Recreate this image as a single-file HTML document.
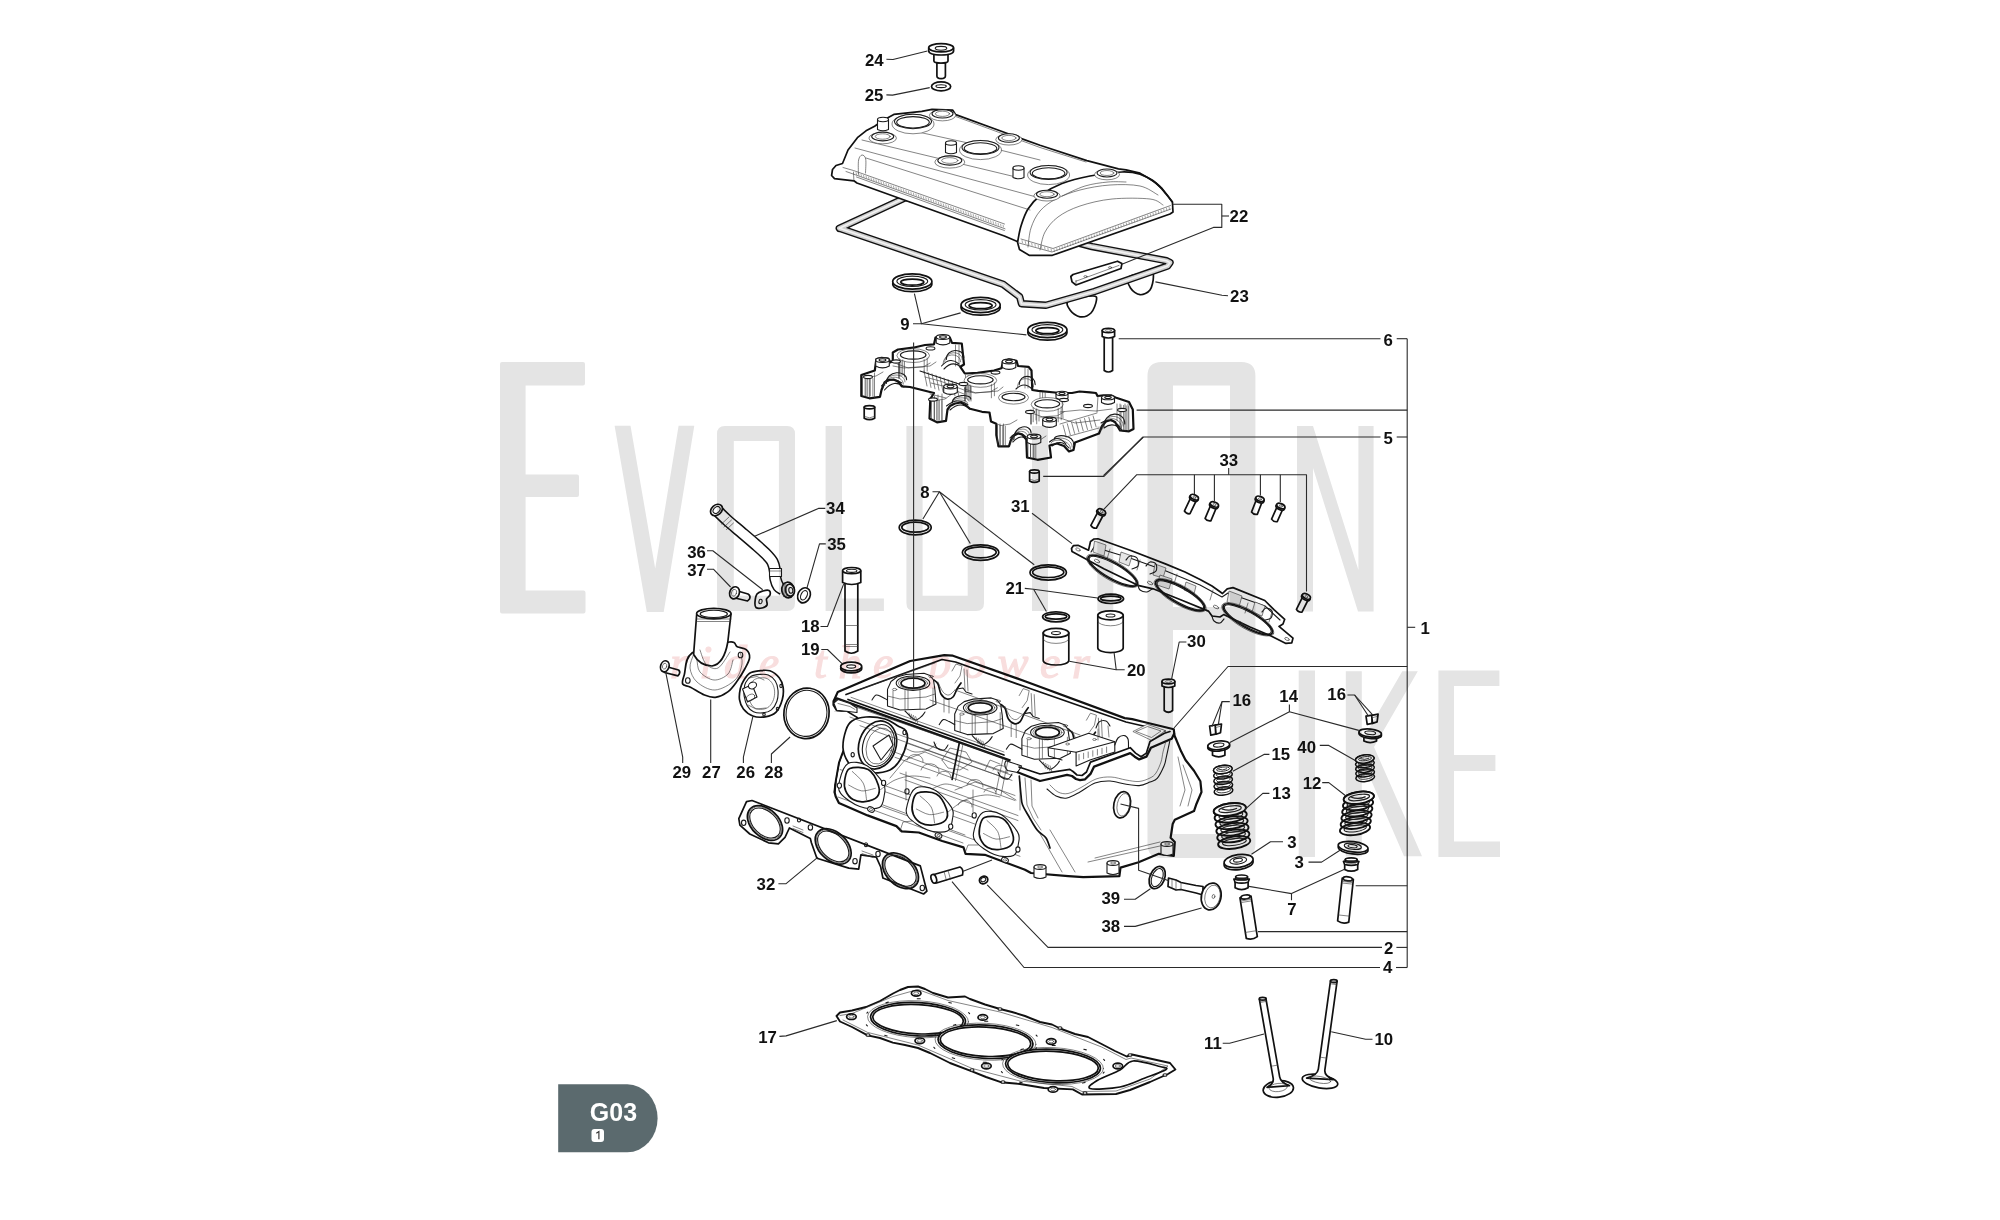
<!DOCTYPE html><html><head><meta charset="utf-8"><title>G03 Cylinder head</title><style>html,body{margin:0;padding:0;background:#fff;}body{width:2000px;height:1220px;overflow:hidden;}svg{display:block;}</style></head><body><svg width="2000" height="1220" viewBox="0 0 2000 1220"><style>.o{fill:#fff;stroke:#111;stroke-width:1.7;stroke-linejoin:round}.on{fill:none;stroke:#111;stroke-width:1.7;stroke-linejoin:round;stroke-linecap:round}.m{fill:none;stroke:#1a1a1a;stroke-width:1.1;stroke-linejoin:round;stroke-linecap:round}.mw{fill:#fff;stroke:#1a1a1a;stroke-width:1.1;stroke-linejoin:round}.t{fill:none;stroke:#333;stroke-width:0.6;stroke-linejoin:round;stroke-linecap:round}.tw{fill:#fff;stroke:#333;stroke-width:0.6;stroke-linejoin:round}.g{fill:#cfcfcf;stroke:none}</style><path class="o" d="M936.9,62.8V76Q936.9,78.6 941.1,78.6Q945.4,78.6 945.4,76V62.8Z"/><path class="o" d="M933.9,53V61Q933.9,63 941,63Q948,63 948,61V53Z"/><path class="o" d="M928.7,48V50.8Q928.7,55 941.1,55Q953.6,55 953.6,50.8V48Z"/><ellipse class="o" cx="941.1" cy="47.8" rx="12.4" ry="4.1"/><ellipse class="m" cx="941" cy="48.3" rx="5.8" ry="1.9"/><ellipse class="o" cx="941.1" cy="86.4" rx="9.6" ry="4.5"/><ellipse class="m" cx="941.1" cy="86.2" rx="5.2" ry="1.4"/><path class="o" d="M1068.8,300.5 C1064.97,302.83 1068.13,307.28 1070,310 C1071.87,312.72 1076.5,316.3 1080,316.8 C1083.5,317.3 1088.27,315.72 1091,313 C1093.73,310.28 1096.07,303.33 1096.4,300.5 C1096.73,297.67 1097.6,296 1093,296 C1088.4,296 1072.63,298.17 1068.8,300.5Z"/><path class="o" d="M1128.8,277 C1125.55,279.58 1128.63,285.05 1130.5,288 C1132.37,290.95 1136.75,294.37 1140,294.7 C1143.25,295.03 1147.77,292.95 1150,290 C1152.23,287.05 1153.4,279.92 1153.4,277 C1153.4,274.08 1154.1,272.5 1150,272.5 C1145.9,272.5 1132.05,274.42 1128.8,277Z"/><polygon points="839.3,228.3 906,197.5 1092,246.6 1166.5,260.7 1170,262.6 1167.5,266.1 1094.4,291.5 1046,305.3 1021.5,303.8 1019.7,296.8 1003,284.2 839.5,228.2" fill="none" stroke="#111" stroke-width="7.4" stroke-linejoin="round"/><polygon points="839.3,228.3 906,197.5 1092,246.6 1166.5,260.7 1170,262.6 1167.5,266.1 1094.4,291.5 1046,305.3 1021.5,303.8 1019.7,296.8 1003,284.2 839.5,228.2" fill="none" stroke="#cfcfcf" stroke-width="4.6" stroke-linejoin="round"/><polygon points="839.3,228.3 906,197.5 1092,246.6 1166.5,260.7 1170,262.6 1167.5,266.1 1094.4,291.5 1046,305.3 1021.5,303.8 1019.7,296.8 1003,284.2 839.5,228.2" fill="none" stroke="#f2f2f2" stroke-width="1.6" stroke-linejoin="round"/><polygon class="o" points="1070.8,276.5 1072,281.8 1076,285 1121,268.5 1121.9,263.6 1117.5,261.2 1073,274.5"/><line class="t" x1="1076" y1="281.2" x2="1119" y2="265.4"/><line class="t" x1="1076" y1="284.8" x2="1076" y2="280.5"/><ellipse class="t" cx="1085.5" cy="276.5" rx="1.6" ry="0.9"/><ellipse class="t" cx="1110" cy="267.5" rx="1.6" ry="0.9"/><path class="o" d="M831.6,175.5 L832.5,169.5 L836,165.5 L842.5,163.5 L848,150 L857.4,137.7 L866,130.8 L874.6,126.2 L880,122.5 L886,118.8 L893.8,114.4 L921.8,111.4 L932,109.4 L952.8,110.2 L955.7,114.6 L1000,130.8 L1020.7,138.4 L1040,145.3 L1086.9,160.6 L1118.4,168.9 L1126,169.8 L1140,173.2 L1152.8,180.5 L1162,188.5 L1167.2,195 L1172.4,202 L1173,212 L1170,214 L1052.4,255.3 L1029.5,255.4 L1019.5,249.5 L1017.3,241.5 L1004.4,236 L856.9,183 L853.9,180.8 L834.5,178.6Z"/><polyline class="t" points="843,167.5 853.5,170.5 1004.5,224"/><polyline class="t" points="846,171.5 856,175 1005,228.8"/><polyline class="t" points="856.5,177 1004.4,230.5"/><line class="t" x1="853.9" y1="180.8" x2="853.5" y2="172"/><path class="on" d="M1017.7,241.5 C1018.25,238.92 1019.28,231.42 1021,226 C1022.72,220.58 1024.67,214.17 1028,209 C1031.33,203.83 1035.33,199.25 1041,195 C1046.67,190.75 1053.83,186.67 1062,183.5 C1070.17,180.33 1080,177.92 1090,176 C1100,174.08 1113.67,172.28 1122,172 C1130.33,171.72 1134.33,172.47 1140,174.3 C1145.67,176.13 1151.67,179.72 1156,183 C1160.33,186.28 1163.27,190.83 1166,194 C1168.73,197.17 1171.33,200.67 1172.4,202"/><polyline class="t" points="1019,243 1052,252 1171,209"/><polyline class="t" points="1021,239 1053,248.5 1170.5,205.5"/><path class="t" d="M1028,247 C1028.5,243.83 1029,234 1031,228 C1033,222 1035.83,215.83 1040,211 C1044.17,206.17 1049.33,202.5 1056,199 C1062.67,195.5 1071,192.33 1080,190 C1089,187.67 1100,185.67 1110,185 C1120,184.33 1132,184.33 1140,186 C1148,187.67 1155,193.5 1158,195"/><path class="t" d="M1040,250 C1040.83,247 1042,237.5 1045,232 C1048,226.5 1052.17,221.33 1058,217 C1063.83,212.67 1071,209 1080,206 C1089,203 1100.33,200.17 1112,199 C1123.67,197.83 1141.5,198 1150,199 C1158.5,200 1160.83,204 1163,205"/><path class="t" d="M1062,196 C1065.83,194.33 1077.33,188.33 1085,186 C1092.67,183.67 1101.17,182.67 1108,182 C1114.83,181.33 1123,182 1126,182"/><line x1="856" y1="172.3" x2="856.6" y2="174.9" stroke="#555" stroke-width="0.5"/><line x1="858.49" y1="173.19" x2="859.09" y2="175.79" stroke="#555" stroke-width="0.5"/><line x1="860.98" y1="174.08" x2="861.58" y2="176.68" stroke="#555" stroke-width="0.5"/><line x1="863.47" y1="174.97" x2="864.07" y2="177.57" stroke="#555" stroke-width="0.5"/><line x1="865.97" y1="175.86" x2="866.57" y2="178.46" stroke="#555" stroke-width="0.5"/><line x1="868.46" y1="176.75" x2="869.06" y2="179.35" stroke="#555" stroke-width="0.5"/><line x1="870.95" y1="177.64" x2="871.55" y2="180.24" stroke="#555" stroke-width="0.5"/><line x1="873.44" y1="178.53" x2="874.04" y2="181.13" stroke="#555" stroke-width="0.5"/><line x1="875.93" y1="179.42" x2="876.53" y2="182.02" stroke="#555" stroke-width="0.5"/><line x1="878.42" y1="180.31" x2="879.02" y2="182.91" stroke="#555" stroke-width="0.5"/><line x1="880.92" y1="181.2" x2="881.52" y2="183.8" stroke="#555" stroke-width="0.5"/><line x1="883.41" y1="182.09" x2="884.01" y2="184.69" stroke="#555" stroke-width="0.5"/><line x1="885.9" y1="182.98" x2="886.5" y2="185.58" stroke="#555" stroke-width="0.5"/><line x1="888.39" y1="183.87" x2="888.99" y2="186.47" stroke="#555" stroke-width="0.5"/><line x1="890.88" y1="184.76" x2="891.48" y2="187.36" stroke="#555" stroke-width="0.5"/><line x1="893.37" y1="185.65" x2="893.97" y2="188.25" stroke="#555" stroke-width="0.5"/><line x1="895.86" y1="186.54" x2="896.46" y2="189.14" stroke="#555" stroke-width="0.5"/><line x1="898.36" y1="187.43" x2="898.96" y2="190.03" stroke="#555" stroke-width="0.5"/><line x1="900.85" y1="188.32" x2="901.45" y2="190.92" stroke="#555" stroke-width="0.5"/><line x1="903.34" y1="189.21" x2="903.94" y2="191.81" stroke="#555" stroke-width="0.5"/><line x1="905.83" y1="190.1" x2="906.43" y2="192.7" stroke="#555" stroke-width="0.5"/><line x1="908.32" y1="190.99" x2="908.92" y2="193.59" stroke="#555" stroke-width="0.5"/><line x1="910.81" y1="191.88" x2="911.41" y2="194.48" stroke="#555" stroke-width="0.5"/><line x1="913.31" y1="192.77" x2="913.91" y2="195.37" stroke="#555" stroke-width="0.5"/><line x1="915.8" y1="193.66" x2="916.4" y2="196.26" stroke="#555" stroke-width="0.5"/><line x1="918.29" y1="194.55" x2="918.89" y2="197.15" stroke="#555" stroke-width="0.5"/><line x1="920.78" y1="195.44" x2="921.38" y2="198.04" stroke="#555" stroke-width="0.5"/><line x1="923.27" y1="196.33" x2="923.87" y2="198.93" stroke="#555" stroke-width="0.5"/><line x1="925.76" y1="197.22" x2="926.36" y2="199.82" stroke="#555" stroke-width="0.5"/><line x1="928.25" y1="198.11" x2="928.85" y2="200.71" stroke="#555" stroke-width="0.5"/><line x1="930.75" y1="198.99" x2="931.35" y2="201.59" stroke="#555" stroke-width="0.5"/><line x1="933.24" y1="199.88" x2="933.84" y2="202.48" stroke="#555" stroke-width="0.5"/><line x1="935.73" y1="200.77" x2="936.33" y2="203.37" stroke="#555" stroke-width="0.5"/><line x1="938.22" y1="201.66" x2="938.82" y2="204.26" stroke="#555" stroke-width="0.5"/><line x1="940.71" y1="202.55" x2="941.31" y2="205.15" stroke="#555" stroke-width="0.5"/><line x1="943.2" y1="203.44" x2="943.8" y2="206.04" stroke="#555" stroke-width="0.5"/><line x1="945.69" y1="204.33" x2="946.29" y2="206.93" stroke="#555" stroke-width="0.5"/><line x1="948.19" y1="205.22" x2="948.79" y2="207.82" stroke="#555" stroke-width="0.5"/><line x1="950.68" y1="206.11" x2="951.28" y2="208.71" stroke="#555" stroke-width="0.5"/><line x1="953.17" y1="207" x2="953.77" y2="209.6" stroke="#555" stroke-width="0.5"/><line x1="955.66" y1="207.89" x2="956.26" y2="210.49" stroke="#555" stroke-width="0.5"/><line x1="958.15" y1="208.78" x2="958.75" y2="211.38" stroke="#555" stroke-width="0.5"/><line x1="960.64" y1="209.67" x2="961.24" y2="212.27" stroke="#555" stroke-width="0.5"/><line x1="963.14" y1="210.56" x2="963.74" y2="213.16" stroke="#555" stroke-width="0.5"/><line x1="965.63" y1="211.45" x2="966.23" y2="214.05" stroke="#555" stroke-width="0.5"/><line x1="968.12" y1="212.34" x2="968.72" y2="214.94" stroke="#555" stroke-width="0.5"/><line x1="970.61" y1="213.23" x2="971.21" y2="215.83" stroke="#555" stroke-width="0.5"/><line x1="973.1" y1="214.12" x2="973.7" y2="216.72" stroke="#555" stroke-width="0.5"/><line x1="975.59" y1="215.01" x2="976.19" y2="217.61" stroke="#555" stroke-width="0.5"/><line x1="978.08" y1="215.9" x2="978.68" y2="218.5" stroke="#555" stroke-width="0.5"/><line x1="980.58" y1="216.79" x2="981.18" y2="219.39" stroke="#555" stroke-width="0.5"/><line x1="983.07" y1="217.68" x2="983.67" y2="220.28" stroke="#555" stroke-width="0.5"/><line x1="985.56" y1="218.57" x2="986.16" y2="221.17" stroke="#555" stroke-width="0.5"/><line x1="988.05" y1="219.46" x2="988.65" y2="222.06" stroke="#555" stroke-width="0.5"/><line x1="990.54" y1="220.35" x2="991.14" y2="222.95" stroke="#555" stroke-width="0.5"/><line x1="993.03" y1="221.24" x2="993.63" y2="223.84" stroke="#555" stroke-width="0.5"/><line x1="995.53" y1="222.13" x2="996.13" y2="224.73" stroke="#555" stroke-width="0.5"/><line x1="998.02" y1="223.02" x2="998.62" y2="225.62" stroke="#555" stroke-width="0.5"/><line x1="1000.51" y1="223.91" x2="1001.11" y2="226.51" stroke="#555" stroke-width="0.5"/><line x1="1003" y1="224.8" x2="1003.6" y2="227.4" stroke="#555" stroke-width="0.5"/><line x1="1054" y1="249.2" x2="1054.5" y2="252" stroke="#555" stroke-width="0.5"/><line x1="1056.67" y1="248.21" x2="1057.17" y2="251.01" stroke="#555" stroke-width="0.5"/><line x1="1059.35" y1="247.22" x2="1059.85" y2="250.02" stroke="#555" stroke-width="0.5"/><line x1="1062.02" y1="246.23" x2="1062.52" y2="249.03" stroke="#555" stroke-width="0.5"/><line x1="1064.7" y1="245.25" x2="1065.2" y2="248.05" stroke="#555" stroke-width="0.5"/><line x1="1067.37" y1="244.26" x2="1067.87" y2="247.06" stroke="#555" stroke-width="0.5"/><line x1="1070.05" y1="243.27" x2="1070.55" y2="246.07" stroke="#555" stroke-width="0.5"/><line x1="1072.72" y1="242.28" x2="1073.22" y2="245.08" stroke="#555" stroke-width="0.5"/><line x1="1075.4" y1="241.29" x2="1075.9" y2="244.09" stroke="#555" stroke-width="0.5"/><line x1="1078.07" y1="240.3" x2="1078.57" y2="243.1" stroke="#555" stroke-width="0.5"/><line x1="1080.74" y1="239.32" x2="1081.24" y2="242.12" stroke="#555" stroke-width="0.5"/><line x1="1083.42" y1="238.33" x2="1083.92" y2="241.13" stroke="#555" stroke-width="0.5"/><line x1="1086.09" y1="237.34" x2="1086.59" y2="240.14" stroke="#555" stroke-width="0.5"/><line x1="1088.77" y1="236.35" x2="1089.27" y2="239.15" stroke="#555" stroke-width="0.5"/><line x1="1091.44" y1="235.36" x2="1091.94" y2="238.16" stroke="#555" stroke-width="0.5"/><line x1="1094.12" y1="234.37" x2="1094.62" y2="237.17" stroke="#555" stroke-width="0.5"/><line x1="1096.79" y1="233.39" x2="1097.29" y2="236.19" stroke="#555" stroke-width="0.5"/><line x1="1099.47" y1="232.4" x2="1099.97" y2="235.2" stroke="#555" stroke-width="0.5"/><line x1="1102.14" y1="231.41" x2="1102.64" y2="234.21" stroke="#555" stroke-width="0.5"/><line x1="1104.81" y1="230.42" x2="1105.31" y2="233.22" stroke="#555" stroke-width="0.5"/><line x1="1107.49" y1="229.43" x2="1107.99" y2="232.23" stroke="#555" stroke-width="0.5"/><line x1="1110.16" y1="228.44" x2="1110.66" y2="231.24" stroke="#555" stroke-width="0.5"/><line x1="1112.84" y1="227.46" x2="1113.34" y2="230.26" stroke="#555" stroke-width="0.5"/><line x1="1115.51" y1="226.47" x2="1116.01" y2="229.27" stroke="#555" stroke-width="0.5"/><line x1="1118.19" y1="225.48" x2="1118.69" y2="228.28" stroke="#555" stroke-width="0.5"/><line x1="1120.86" y1="224.49" x2="1121.36" y2="227.29" stroke="#555" stroke-width="0.5"/><line x1="1123.53" y1="223.5" x2="1124.03" y2="226.3" stroke="#555" stroke-width="0.5"/><line x1="1126.21" y1="222.51" x2="1126.71" y2="225.31" stroke="#555" stroke-width="0.5"/><line x1="1128.88" y1="221.53" x2="1129.38" y2="224.33" stroke="#555" stroke-width="0.5"/><line x1="1131.56" y1="220.54" x2="1132.06" y2="223.34" stroke="#555" stroke-width="0.5"/><line x1="1134.23" y1="219.55" x2="1134.73" y2="222.35" stroke="#555" stroke-width="0.5"/><line x1="1136.91" y1="218.56" x2="1137.41" y2="221.36" stroke="#555" stroke-width="0.5"/><line x1="1139.58" y1="217.57" x2="1140.08" y2="220.37" stroke="#555" stroke-width="0.5"/><line x1="1142.26" y1="216.58" x2="1142.76" y2="219.38" stroke="#555" stroke-width="0.5"/><line x1="1144.93" y1="215.6" x2="1145.43" y2="218.4" stroke="#555" stroke-width="0.5"/><line x1="1147.6" y1="214.61" x2="1148.1" y2="217.41" stroke="#555" stroke-width="0.5"/><line x1="1150.28" y1="213.62" x2="1150.78" y2="216.42" stroke="#555" stroke-width="0.5"/><line x1="1152.95" y1="212.63" x2="1153.45" y2="215.43" stroke="#555" stroke-width="0.5"/><line x1="1155.63" y1="211.64" x2="1156.13" y2="214.44" stroke="#555" stroke-width="0.5"/><line x1="1158.3" y1="210.65" x2="1158.8" y2="213.45" stroke="#555" stroke-width="0.5"/><line x1="1160.98" y1="209.67" x2="1161.48" y2="212.47" stroke="#555" stroke-width="0.5"/><line x1="1163.65" y1="208.68" x2="1164.15" y2="211.48" stroke="#555" stroke-width="0.5"/><line x1="1166.33" y1="207.69" x2="1166.83" y2="210.49" stroke="#555" stroke-width="0.5"/><line x1="1169" y1="206.7" x2="1169.5" y2="209.5" stroke="#555" stroke-width="0.5"/><line x1="1022" y1="240.2" x2="1022.5" y2="243" stroke="#555" stroke-width="0.5"/><line x1="1025.22" y1="241.13" x2="1025.72" y2="243.93" stroke="#555" stroke-width="0.5"/><line x1="1028.44" y1="242.07" x2="1028.94" y2="244.87" stroke="#555" stroke-width="0.5"/><line x1="1031.67" y1="243" x2="1032.17" y2="245.8" stroke="#555" stroke-width="0.5"/><line x1="1034.89" y1="243.93" x2="1035.39" y2="246.73" stroke="#555" stroke-width="0.5"/><line x1="1038.11" y1="244.87" x2="1038.61" y2="247.67" stroke="#555" stroke-width="0.5"/><line x1="1041.33" y1="245.8" x2="1041.83" y2="248.6" stroke="#555" stroke-width="0.5"/><line x1="1044.56" y1="246.73" x2="1045.06" y2="249.53" stroke="#555" stroke-width="0.5"/><line x1="1047.78" y1="247.67" x2="1048.28" y2="250.47" stroke="#555" stroke-width="0.5"/><line x1="1051" y1="248.6" x2="1051.5" y2="251.4" stroke="#555" stroke-width="0.5"/><polyline class="t" points="855,148 1040,198"/><polyline class="t" points="862,140 1020,178"/><polyline class="t" points="866,158 1030,210"/><polyline class="t" points="900,128 1000,150 1040,160"/><polyline class="t" points="955.7,116.5 1040,147.5 1086,162"/><path class="t" d="M858.4,174 C858.43,171.67 858,163.17 858.6,160 C859.2,156.83 860.82,155.17 862,155 C863.18,154.83 865.12,156 865.7,159 C866.28,162 865.53,170.67 865.5,173"/><ellipse class="tw" cx="913" cy="124" rx="21" ry="9.8"/><ellipse class="mw" cx="913" cy="121.5" rx="18.5" ry="7.2"/><ellipse class="m" cx="913" cy="122.3" rx="16.3" ry="5.7"/><ellipse class="tw" cx="980.5" cy="150" rx="21" ry="9.6"/><ellipse class="mw" cx="980.5" cy="147.5" rx="18.5" ry="7"/><ellipse class="m" cx="980.5" cy="148.3" rx="16.3" ry="5.5"/><ellipse class="tw" cx="1048.6" cy="175" rx="21" ry="9.6"/><ellipse class="mw" cx="1048.6" cy="172.5" rx="18.5" ry="7"/><ellipse class="m" cx="1048.6" cy="173.3" rx="16.3" ry="5.5"/><ellipse class="tw" cx="882.7" cy="138.1" rx="13.75" ry="5.72"/><ellipse class="mw" cx="882.7" cy="136.5" rx="11" ry="4.4"/><ellipse class="t" cx="882.7" cy="136.5" rx="7.48" ry="2.73"/><ellipse class="tw" cx="942.5" cy="115.4" rx="13.12" ry="5.46"/><ellipse class="mw" cx="942.5" cy="113.8" rx="10.5" ry="4.2"/><ellipse class="t" cx="942.5" cy="113.8" rx="7.14" ry="2.6"/><ellipse class="tw" cx="949.8" cy="162.1" rx="15" ry="5.98"/><ellipse class="mw" cx="949.8" cy="160.5" rx="12" ry="4.6"/><ellipse class="t" cx="949.8" cy="160.5" rx="8.16" ry="2.85"/><ellipse class="tw" cx="1008.9" cy="139.6" rx="13.12" ry="5.46"/><ellipse class="mw" cx="1008.9" cy="138" rx="10.5" ry="4.2"/><ellipse class="t" cx="1008.9" cy="138" rx="7.14" ry="2.6"/><ellipse class="tw" cx="1107" cy="174.6" rx="12.5" ry="5.2"/><ellipse class="mw" cx="1107" cy="173" rx="10" ry="4"/><ellipse class="t" cx="1107" cy="173" rx="6.8" ry="2.48"/><ellipse class="tw" cx="1047" cy="195.8" rx="13.12" ry="5.2"/><ellipse class="mw" cx="1047" cy="194.2" rx="10.5" ry="4"/><ellipse class="t" cx="1047" cy="194.2" rx="7.14" ry="2.48"/><path class="mw" d="M877.5,119.5V129.5Q883,132 888.5,129.5V119.5Z"/><ellipse class="mw" cx="883" cy="119.5" rx="5.5" ry="2.2"/><path class="mw" d="M945.5,143V152.5Q951,155 956.5,152.5V143Z"/><ellipse class="mw" cx="951" cy="143" rx="5.5" ry="2.2"/><path class="mw" d="M1013,168V177.5Q1018.5,180 1024,177.5V168Z"/><ellipse class="mw" cx="1018.5" cy="168" rx="5.5" ry="2.2"/><ellipse class="o" cx="912.3" cy="284.1" rx="19.6" ry="7.6"/><ellipse class="o" cx="912.3" cy="281.5" rx="19.6" ry="7.6"/><ellipse class="m" cx="912.3" cy="281.3" rx="15.4" ry="5.2"/><ellipse class="o" cx="912.3" cy="282.1" rx="11.6" ry="3"/><ellipse class="o" cx="980.6" cy="307.6" rx="19.6" ry="7.6"/><ellipse class="o" cx="980.6" cy="305" rx="19.6" ry="7.6"/><ellipse class="m" cx="980.6" cy="304.8" rx="15.4" ry="5.2"/><ellipse class="o" cx="980.6" cy="305.6" rx="11.6" ry="3"/><ellipse class="o" cx="1047.4" cy="332.6" rx="19.6" ry="7.6"/><ellipse class="o" cx="1047.4" cy="330" rx="19.6" ry="7.6"/><ellipse class="m" cx="1047.4" cy="329.8" rx="15.4" ry="5.2"/><ellipse class="o" cx="1047.4" cy="330.6" rx="11.6" ry="3"/><path class="o" d="M1104.2,336V370.5Q1108.4,373.5 1112.6,370.5V336Z"/><path class="o" d="M1102.2,330.5V336.5Q1108.4,339.5 1114.6,336.5V330.5Z"/><ellipse class="o" cx="1108.4" cy="330.5" rx="6.2" ry="2.2"/><ellipse class="t" cx="1108.4" cy="330.6" rx="3" ry="1"/><path class="o" d="M864.2,407.2V418.2Q869.45,421 874.7,418.2V407.2Z"/><ellipse class="o" cx="869.45" cy="407.2" rx="5.25" ry="1.6"/><polyline class="t" points="864.7,416.5 869.45,417.8 874.2,416.5"/><path class="o" d="M1029.6,471.5V481Q1034.4,483.8 1039.2,481V471.5Z"/><ellipse class="o" cx="1034.4" cy="471.5" rx="4.8" ry="1.6"/><polyline class="t" points="1030.1,479.3 1034.4,480.6 1038.7,479.3"/><polygon points="861.3,375 874.8,370.5 876.3,359.3 881.5,357.8 888.3,358.5 890.5,362.3 892.8,360.8 892.8,352.5 898,349.5 913,347.7 925,345 934,344.3 935.5,337.5 943,335.3 949.8,337.5 952,342.8 961.8,343.5 964,364.5 960.3,366.8 964.8,373.5 977.5,372.8 994,370.5 1001.5,368.3 1003,361.5 1009,359.3 1016.5,360.8 1018,366 1028.5,366.8 1031.5,370.5 1032.3,390 1038.3,390.8 1060,393 1072,393 1079.5,391.5 1090,392.3 1096,393 1097.5,396 1103.5,395.3 1111,395.3 1115.5,397.5 1129,402 1132.8,409.5 1133.5,429 1129,431.3 1120,430.5 1115,422 1111,420 1106,421.5 1102,426 1099,433.5 1075,442.5 1073.5,450 1069,451.5 1064,446 1057,443.5 1049.5,445.5 1051,457.5 1037.5,459.8 1027,457.5 1026.3,439.5 1022,434.5 1018,433.5 1013,436 1010.5,441 1009,446.3 998.5,446.3 996.3,435 996.3,423.8 991,421.5 989.5,412.5 982,411.8 970,408.8 966,405.5 961,402.5 955,403.5 950,406 947.5,409.5 946,420.8 937,422.3 929.5,418.5 930.3,399 934,393 919,389.3 910,387 901.8,386.3 898,381.5 893.5,379.5 888,380 884.5,382.5 881.5,390 880,396.8 869.5,398.3 861.3,396" fill="#fff" stroke="#111" stroke-width="2.2" stroke-linejoin="round"/><path class="m" d="M881.5,386Q891.65,375.5 901.8,383"/><path class="m" d="M884.5,390Q894.25,378.5 904,387"/><path class="m" d="M946.5,406Q957.25,396.5 968,405"/><path class="m" d="M950,410Q960,400.5 970,409"/><path class="m" d="M1010,438Q1018,428.5 1026,437"/><path class="m" d="M1013,442Q1021,432.5 1029,441"/><path class="m" d="M1049.5,442Q1057.75,434 1066,444"/><path class="m" d="M1052,446Q1060.5,438 1069,448"/><path class="m" d="M1101,423Q1110.5,416 1120,427"/><path class="m" d="M1104,428Q1113.5,420.5 1123,431"/><path class="m" d="M941.5,366Q950.25,356 959,364"/><path class="m" d="M944,369Q952.5,360 961,367"/><path class="m" d="M1016,389Q1024,381 1032,389"/><line class="t" x1="866" y1="378" x2="866" y2="396"/><line class="t" x1="869.5" y1="377" x2="869.5" y2="397.5"/><line class="t" x1="874.5" y1="373" x2="874.5" y2="398"/><line class="t" x1="934.5" y1="396" x2="934.5" y2="420"/><line class="t" x1="938" y1="395" x2="938" y2="421.5"/><line class="t" x1="942" y1="394" x2="942" y2="421.5"/><line class="t" x1="1000" y1="424" x2="1000" y2="446"/><line class="t" x1="1003.5" y1="424" x2="1003.5" y2="446"/><line class="t" x1="1030.5" y1="440" x2="1030.5" y2="457"/><line class="t" x1="1034" y1="440" x2="1034" y2="458"/><line class="t" x1="1120" y1="404" x2="1120" y2="430"/><line class="t" x1="1125" y1="404" x2="1125" y2="431"/><line class="t" x1="1128" y1="404" x2="1128" y2="431"/><line class="t" x1="959" y1="345" x2="959" y2="366"/><line class="t" x1="955.5" y1="345" x2="955.5" y2="366"/><line class="t" x1="1028" y1="369" x2="1028" y2="388"/><line class="t" x1="1025" y1="368" x2="1025" y2="388"/><line class="t" x1="901" y1="360" x2="901" y2="376"/><line class="t" x1="904.5" y1="360" x2="904.5" y2="377"/><line class="t" x1="968" y1="384" x2="968" y2="400"/><line class="t" x1="971" y1="384" x2="971" y2="401"/><line class="t" x1="1036" y1="405" x2="1036" y2="420"/><line class="t" x1="1039" y1="405" x2="1039" y2="421"/><polyline class="t" points="861.3,375 867,377.5 876,376 883,372"/><polyline class="t" points="930.3,399 936,400.5 945,399 952,394"/><polyline class="t" points="996.3,423.8 1001,425.5 1010,424 1017,420"/><polyline class="t" points="1026.3,439.5 1031,441 1040,440 1046,436"/><polyline class="t" points="893,366 904,368 930,366 936,362"/><polyline class="t" points="964.8,391 975,393 998,391 1003,387"/><polyline class="t" points="925,377 940,381 964,390"/><polyline class="t" points="931,383 945,386.5 964,394"/><polyline class="t" points="1060,412 1080,410 1096,411 1112,409"/><polyline class="t" points="1040,417 1060,418 1075,423 1100,420"/><path class="t" d="M883.1,387.8C883.1,374.3 903.4,374.3 903.4,384.1"/><path class="t" d="M884.7,385.6C884.7,372.1 905,372.1 905,381.9"/><path class="m" d="M886.3,383.4C886.3,369.9 906.6,369.9 906.6,379.7"/><path class="t" d="M949.1,407.3C949.1,398.3 967.6,398.3 967.6,403.3"/><path class="t" d="M950.7,405.1C950.7,396.1 969.2,396.1 969.2,401.1"/><path class="m" d="M952.3,402.9C952.3,393.9 970.8,393.9 970.8,398.9"/><path class="t" d="M1010.6,444.1C1010.6,428.3 1027.9,428.3 1027.9,437.3"/><path class="t" d="M1012.2,441.9C1012.2,426.1 1029.5,426.1 1029.5,435.1"/><path class="m" d="M1013.8,439.7C1013.8,423.9 1031.1,423.9 1031.1,432.9"/><path class="t" d="M1051.1,443.3C1051.1,438.3 1070.6,438.3 1070.6,449.3"/><path class="t" d="M1052.7,441.1C1052.7,436.1 1072.2,436.1 1072.2,447.1"/><path class="m" d="M1054.3,438.9C1054.3,433.9 1073.8,433.9 1073.8,444.9"/><path class="t" d="M1100.6,431.3C1100.6,414.8 1121.6,414.8 1121.6,428.3"/><path class="t" d="M1102.2,429.1C1102.2,412.6 1123.2,412.6 1123.2,426.1"/><path class="m" d="M1103.8,426.9C1103.8,410.4 1124.8,410.4 1124.8,423.9"/><path class="t" d="M943.1,363.8C943.1,352.2 960.6,352.2 960.6,361.8"/><path class="t" d="M944.7,361.6C944.7,350 962.2,350 962.2,359.6"/><path class="m" d="M946.3,359.4C946.3,347.8 963.8,347.8 963.8,357.4"/><path class="t" d="M1017.6,386.8C1017.6,375.8 1033.6,375.8 1033.6,386.8"/><path class="m" d="M1019.2,384.6C1019.2,373.6 1035.2,373.6 1035.2,384.6"/><line class="t" x1="862.5" y1="377" x2="862.5" y2="396"/><line class="t" x1="865.1" y1="377.4" x2="865.1" y2="396"/><line class="t" x1="867.7" y1="377.8" x2="867.7" y2="396"/><line class="t" x1="870.3" y1="378.2" x2="870.3" y2="396"/><line class="t" x1="872.9" y1="378.6" x2="872.9" y2="396"/><line class="t" x1="931.5" y1="399" x2="931.5" y2="420"/><line class="t" x1="934.1" y1="399.4" x2="934.1" y2="420"/><line class="t" x1="936.7" y1="399.8" x2="936.7" y2="420"/><line class="t" x1="939.3" y1="400.2" x2="939.3" y2="420"/><line class="t" x1="941.9" y1="400.6" x2="941.9" y2="420"/><line class="t" x1="997.5" y1="425" x2="997.5" y2="446"/><line class="t" x1="1000.1" y1="425.4" x2="1000.1" y2="446"/><line class="t" x1="1002.7" y1="425.8" x2="1002.7" y2="446"/><line class="t" x1="1005.3" y1="426.2" x2="1005.3" y2="446"/><line class="t" x1="1028" y1="441" x2="1028" y2="458"/><line class="t" x1="1030.6" y1="441.4" x2="1030.6" y2="458"/><line class="t" x1="1033.2" y1="441.8" x2="1033.2" y2="458"/><line class="t" x1="1035.8" y1="442.2" x2="1035.8" y2="458"/><line class="t" x1="1121" y1="405" x2="1121" y2="430"/><line class="t" x1="1123.6" y1="405.4" x2="1123.6" y2="430"/><line class="t" x1="1126.2" y1="405.8" x2="1126.2" y2="430"/><line class="t" x1="1128.8" y1="406.2" x2="1128.8" y2="430"/><line class="t" x1="1040" y1="392" x2="1040" y2="410"/><line class="t" x1="1042.6" y1="392.4" x2="1042.6" y2="410"/><line class="t" x1="1045.2" y1="392.8" x2="1045.2" y2="410"/><line class="t" x1="965.5" y1="375" x2="965.5" y2="392"/><line class="t" x1="968.1" y1="375.4" x2="968.1" y2="392"/><line class="t" x1="970.7" y1="375.8" x2="970.7" y2="392"/><line class="t" x1="924" y1="371" x2="927" y2="386"/><line class="t" x1="928" y1="372.4" x2="931" y2="387.4"/><line class="t" x1="932" y1="373.8" x2="935" y2="388.8"/><line class="t" x1="936" y1="375.2" x2="939" y2="390.2"/><line class="t" x1="940" y1="376.6" x2="943" y2="391.6"/><line class="t" x1="944" y1="378" x2="947" y2="393"/><line class="t" x1="948" y1="379.4" x2="951" y2="394.4"/><line class="t" x1="952" y1="380.8" x2="955" y2="395.8"/><line class="t" x1="956" y1="382.2" x2="959" y2="397.2"/><polyline class="m" points="920,371 962,385"/><polyline class="t" points="930,394 946,398"/><line class="t" x1="1063" y1="425" x2="1066" y2="436"/><line class="t" x1="1067.3" y1="423.7" x2="1070.3" y2="434.7"/><line class="t" x1="1071.6" y1="422.4" x2="1074.6" y2="433.4"/><line class="t" x1="1075.9" y1="421.1" x2="1078.9" y2="432.1"/><line class="t" x1="1080.2" y1="419.8" x2="1083.2" y2="430.8"/><line class="t" x1="1084.5" y1="418.5" x2="1087.5" y2="429.5"/><line class="t" x1="1088.8" y1="417.2" x2="1091.8" y2="428.2"/><line class="t" x1="1093.1" y1="415.9" x2="1096.1" y2="426.9"/><polyline class="t" points="1060,424 1097,413"/><polyline class="t" points="1066,437 1099,428"/><ellipse class="tw" cx="913.2" cy="355.6" rx="16.3" ry="6.9"/><ellipse class="mw" cx="913.2" cy="355" rx="12.8" ry="4.1"/><ellipse class="tw" cx="980.4" cy="380.4" rx="16.3" ry="6.9"/><ellipse class="mw" cx="980.4" cy="379.8" rx="12.8" ry="4.1"/><ellipse class="tw" cx="1013.5" cy="397.6" rx="15" ry="6.5"/><ellipse class="mw" cx="1013.5" cy="397" rx="11.5" ry="3.7"/><ellipse class="tw" cx="1047.2" cy="404.4" rx="16" ry="6.9"/><ellipse class="mw" cx="1047.2" cy="403.8" rx="12.5" ry="4.1"/><polyline class="t" points="899.2,359 899.2,373"/><polyline class="t" points="902.7,360 902.7,375"/><polyline class="t" points="927.2,358 927.2,371"/><polyline class="t" points="924.2,359.5 924.2,373"/><polyline class="t" points="897.2,364 908.2,368 923.2,367 930.2,363"/><polyline class="t" points="966.4,383.8 966.4,397.8"/><polyline class="t" points="969.9,384.8 969.9,399.8"/><polyline class="t" points="994.4,382.8 994.4,395.8"/><polyline class="t" points="991.4,384.3 991.4,397.8"/><polyline class="t" points="964.4,388.8 975.4,392.8 990.4,391.8 997.4,387.8"/><polyline class="t" points="1033.2,407.8 1033.2,421.8"/><polyline class="t" points="1036.7,408.8 1036.7,423.8"/><polyline class="t" points="1061.2,406.8 1061.2,419.8"/><polyline class="t" points="1058.2,408.3 1058.2,421.8"/><polyline class="t" points="1031.2,412.8 1042.2,416.8 1057.2,415.8 1064.2,411.8"/><polyline class="m" points="899,362 899,378"/><polyline class="m" points="965,387 965,401"/><polyline class="m" points="1031,410 1031,424"/><polyline class="t" points="1062,398 1063,418"/><polyline class="t" points="1117,404 1117,421"/><polyline class="t" points="1098,396 1097,412"/><path class="mw" d="M875.7,360V366Q882.5,369.84 889.3,366V360Z"/><ellipse class="mw" cx="882.5" cy="360" rx="6.8" ry="2.4"/><ellipse class="m" cx="882.5" cy="360" rx="3.4" ry="1.2"/><path class="mw" d="M936.2,337V343Q943,346.84 949.8,343V337Z"/><ellipse class="mw" cx="943" cy="337" rx="6.8" ry="2.4"/><ellipse class="m" cx="943" cy="337" rx="3.4" ry="1.2"/><path class="mw" d="M1002.2,361.5V367.5Q1009,371.34 1015.8,367.5V361.5Z"/><ellipse class="mw" cx="1009" cy="361.5" rx="6.8" ry="2.4"/><ellipse class="m" cx="1009" cy="361.5" rx="3.4" ry="1.2"/><path class="mw" d="M943.7,386.5V392.5Q950.5,396.34 957.3,392.5V386.5Z"/><ellipse class="mw" cx="950.5" cy="386.5" rx="6.8" ry="2.4"/><ellipse class="m" cx="950.5" cy="386.5" rx="3.4" ry="1.2"/><path class="mw" d="M1042.7,419.5V425.5Q1049.5,429.34 1056.3,425.5V419.5Z"/><ellipse class="mw" cx="1049.5" cy="419.5" rx="6.8" ry="2.4"/><ellipse class="m" cx="1049.5" cy="419.5" rx="3.4" ry="1.2"/><path class="mw" d="M1027.2,436.5V442.5Q1034,446.34 1040.8,442.5V436.5Z"/><ellipse class="mw" cx="1034" cy="436.5" rx="6.8" ry="2.4"/><ellipse class="m" cx="1034" cy="436.5" rx="3.4" ry="1.2"/><path class="mw" d="M1101.5,397.5V402.5Q1108,406.18 1114.5,402.5V397.5Z"/><ellipse class="mw" cx="1108" cy="397.5" rx="6.5" ry="2.3"/><ellipse class="m" cx="1108" cy="397.5" rx="3.25" ry="1.15"/><path class="mw" d="M1056,393.5V398Q1062,401.52 1068,398V393.5Z"/><ellipse class="mw" cx="1062" cy="393.5" rx="6" ry="2.2"/><ellipse class="m" cx="1062" cy="393.5" rx="3" ry="1.1"/><ellipse class="mw" cx="896" cy="361.5" rx="4.4" ry="1.6"/><ellipse class="mw" cx="930.5" cy="348.4" rx="4.4" ry="1.6"/><ellipse class="mw" cx="963.5" cy="384" rx="4.4" ry="1.6"/><ellipse class="mw" cx="995.5" cy="372.5" rx="4.4" ry="1.6"/><ellipse class="mw" cx="1030" cy="412" rx="4.4" ry="1.6"/><ellipse class="mw" cx="1064" cy="400" rx="4.4" ry="1.6"/><ellipse class="mw" cx="1088" cy="406" rx="4.4" ry="1.6"/><ellipse class="mw" cx="1122" cy="410" rx="4.4" ry="1.6"/><ellipse class="mw" cx="868" cy="377" rx="4.4" ry="1.6"/><ellipse class="mw" cx="933" cy="399.5" rx="4.4" ry="1.6"/><ellipse class="on" cx="915.2" cy="527.5" rx="16" ry="7.3"/><ellipse class="on" cx="915.2" cy="527.2" rx="13.4" ry="5"/><ellipse class="on" cx="980.6" cy="552.6" rx="18.2" ry="7.8"/><ellipse class="on" cx="980.6" cy="552.3" rx="15.6" ry="5.5"/><ellipse class="on" cx="1048.2" cy="572.5" rx="18.2" ry="7.6"/><ellipse class="on" cx="1048.2" cy="572.2" rx="15.6" ry="5.3"/><path d="M716.5,510 C718.42,511.83 723.92,517.33 728,521 C732.08,524.67 736.5,528.17 741,532 C745.5,535.83 750.83,540.33 755,544 C759.17,547.67 763.08,551 766,554 C768.92,557 771,559.17 772.5,562 C774,564.83 774.5,568.17 775,571 C775.5,573.83 774.92,576.42 775.5,579 C776.08,581.58 777.25,584.75 778.5,586.5 C779.75,588.25 782.25,589 783,589.5" fill="none" stroke="#111" stroke-width="12.4" stroke-linecap="butt" stroke-linejoin="round"/><path d="M716.5,510 C718.42,511.83 723.92,517.33 728,521 C732.08,524.67 736.5,528.17 741,532 C745.5,535.83 750.83,540.33 755,544 C759.17,547.67 763.08,551 766,554 C768.92,557 771,559.17 772.5,562 C774,564.83 774.5,568.17 775,571 C775.5,573.83 774.92,576.42 775.5,579 C776.08,581.58 777.25,584.75 778.5,586.5 C779.75,588.25 782.25,589 783,589.5" fill="none" stroke="#fff" stroke-width="9.4" stroke-linecap="butt" stroke-linejoin="round"/><ellipse class="o" cx="716.5" cy="510" rx="6.6" ry="5" transform="rotate(-42 716.5 510)"/><ellipse class="m" cx="716.6" cy="510" rx="4" ry="2.8" transform="rotate(-42 716.6 510)"/><polyline class="t" points="721.5,524 729,517"/><polyline class="t" points="724,527 731.5,520"/><polyline class="t" points="726.5,529.5 733.5,523"/><path class="mw" d="M769.5,568.5H781.5V576.5H769.5Z"/><line class="t" x1="769.5" y1="571" x2="781.5" y2="571"/><ellipse class="o" cx="788" cy="590" rx="6.2" ry="7.8" transform="rotate(-8 788 590)"/><ellipse class="o" cx="790" cy="590.2" rx="4.5" ry="6" transform="rotate(-8 790 590.2)"/><ellipse class="m" cx="790.8" cy="590.4" rx="2" ry="2.9" transform="rotate(-8 790.8 590.4)"/><line class="t" x1="782.5" y1="583.5" x2="783.5" y2="596.5"/><line class="t" x1="784.1" y1="583.5" x2="785.1" y2="596.5"/><line class="t" x1="785.7" y1="583.5" x2="786.7" y2="596.5"/><ellipse class="o" cx="804" cy="595.3" rx="6.1" ry="7.8" transform="rotate(25 804 595.3)"/><ellipse class="m" cx="804" cy="595.3" rx="3" ry="5" transform="rotate(25 804 595.3)"/><path class="o" d="M736,590.5L748,594Q751,596 749.5,599L747.5,601L735,598Z"/><ellipse class="o" cx="734.5" cy="592.8" rx="4.8" ry="6.2" transform="rotate(20 734.5 592.8)"/><ellipse class="t" cx="734" cy="592.8" rx="2.5" ry="3.6" transform="rotate(20 734 592.8)"/><path class="o" d="M755,602 C755.17,599.75 755.67,595.83 757,594 C758.33,592.17 761,591.58 763,591 C765,590.42 767.83,589.83 769,590.5 C770.17,591.17 770.42,593.58 770,595 C769.58,596.42 767,597.33 766.5,599 C766,600.67 767.75,603.5 767,605 C766.25,606.5 763.83,607.58 762,608 C760.17,608.42 757.17,608.5 756,607.5 C754.83,606.5 754.83,604.25 755,602Z"/><ellipse class="m" cx="760.5" cy="601.5" rx="1.6" ry="2.3" transform="rotate(10 760.5 601.5)"/><path class="o" d="M845,582V651Q851.4,655.5 857.8,651V582Z"/><path class="o" d="M842.6,571V582.5Q851.7,586.5 860.8,582.5V571Z"/><ellipse class="o" cx="851.7" cy="570.6" rx="9.1" ry="3.1"/><ellipse class="m" cx="851.7" cy="570.8" rx="5.2" ry="1.6"/><line class="t" x1="845" y1="644.5" x2="857.8" y2="644.5"/><line class="t" x1="845" y1="646.5" x2="857.8" y2="646.5"/><line class="t" x1="845" y1="625.5" x2="857.8" y2="625.5"/><ellipse class="o" cx="851.2" cy="668.5" rx="10.5" ry="4.4"/><ellipse class="o" cx="851.2" cy="666.5" rx="10.5" ry="4.4"/><ellipse class="m" cx="851.2" cy="666.5" rx="4.5" ry="1.6"/><polygon class="o" points="1071.5,548.5 1073.5,545.6 1078,545.3 1088.5,550.2 1090.5,541.5 1094,539 1098,538.8 1130.8,550.5 1166,564.1 1185,572 1200.1,579.4 1212,586 1222.5,593.5 1227.2,588.8 1233,587.6 1264.8,600.5 1274.2,609.9 1284.7,619.3 1283,624 1279,626.4 1293,638.1 1291.8,642.8 1285.9,643.4 1270.6,635.8 1250,627 1223.6,614.6 1220,617 1212,616 1208.4,611.1 1182.5,600.5 1153.1,588.8 1137.9,585.3 1103.8,568.8 1072,551.5"/><polyline class="m" points="1091,552 1094,547 1130,558 1166,571 1200,585 1222,597 1228,593 1265,606 1280,620"/><polygon points="1094.5,541 1106,545 1104,556 1093,552" fill="#e6e6e6" stroke="#333" stroke-width="0.6"/><polygon points="1121,552 1132,556 1129,566 1119,562" fill="#e6e6e6" stroke="#333" stroke-width="0.6"/><polygon points="1155,564 1166,568 1163,578 1153,575" fill="#e6e6e6" stroke="#333" stroke-width="0.6"/><polygon points="1160,575 1172,579 1169,589 1157,585" fill="#e6e6e6" stroke="#333" stroke-width="0.6"/><polygon points="1229,591 1242,596 1239,607 1227,602" fill="#e6e6e6" stroke="#333" stroke-width="0.6"/><polygon points="1255,602 1265,606 1262,616 1252,612" fill="#e6e6e6" stroke="#333" stroke-width="0.6"/><polygon points="1186,582 1196,586 1194,594 1184,590" fill="#e6e6e6" stroke="#333" stroke-width="0.6"/><line class="t" x1="1110" y1="549" x2="1107" y2="559"/><line class="t" x1="1140" y1="560" x2="1137" y2="570"/><line class="t" x1="1177" y1="574" x2="1174" y2="584"/><line class="t" x1="1213" y1="590" x2="1210" y2="600"/><line class="t" x1="1248" y1="603" x2="1245" y2="613"/><line class="t" x1="1272" y1="612" x2="1269" y2="622"/><path class="m" d="M1126,560 C1126.67,559.33 1128.17,556.33 1130,556 C1131.83,555.67 1135.67,556.33 1137,558 C1138.33,559.67 1138.83,564.17 1138,566 C1137.17,567.83 1133,568.5 1132,569"/><path class="m" d="M1146,566 C1146.67,565.33 1148.33,562.33 1150,562 C1151.67,561.67 1155,562.5 1156,564 C1157,565.5 1157,569.33 1156,571 C1155,572.67 1151,573.5 1150,574"/><path class="m" d="M1262,612 C1262.67,611.33 1264.33,608.17 1266,608 C1267.67,607.83 1271.17,609.33 1272,611 C1272.83,612.67 1272.17,616.5 1271,618 C1269.83,619.5 1266,619.67 1265,620"/><path class="m" d="M1138,585 C1138.33,585.83 1138.5,588.83 1140,590 C1141.5,591.17 1145,592.17 1147,592 C1149,591.83 1151.17,589.5 1152,589"/><path class="m" d="M1212,616 C1212.33,616.83 1212.67,619.83 1214,621 C1215.33,622.17 1218.33,623.33 1220,623 C1221.67,622.67 1223.33,619.67 1224,619"/><ellipse class="t" cx="1112.6" cy="570.9" rx="29.5" ry="9.6" transform="rotate(29.5 1112.6 570.9)"/><ellipse class="on" cx="1112.6" cy="570.9" rx="28" ry="8.3" transform="rotate(29.5 1112.6 570.9)"/><ellipse class="m" cx="1112.6" cy="570.9" rx="26.6" ry="7.2" transform="rotate(29.5 1112.6 570.9)"/><ellipse class="t" cx="1180.2" cy="595.3" rx="29.5" ry="9.6" transform="rotate(29.5 1180.2 595.3)"/><ellipse class="on" cx="1180.2" cy="595.3" rx="28" ry="8.3" transform="rotate(29.5 1180.2 595.3)"/><ellipse class="m" cx="1180.2" cy="595.3" rx="26.6" ry="7.2" transform="rotate(29.5 1180.2 595.3)"/><ellipse class="t" cx="1247.8" cy="619.4" rx="29.5" ry="9.6" transform="rotate(29.5 1247.8 619.4)"/><ellipse class="on" cx="1247.8" cy="619.4" rx="28" ry="8.3" transform="rotate(29.5 1247.8 619.4)"/><ellipse class="m" cx="1247.8" cy="619.4" rx="26.6" ry="7.2" transform="rotate(29.5 1247.8 619.4)"/><ellipse class="t" cx="1078" cy="549.5" rx="2.4" ry="1.3" transform="rotate(25 1078 549.5)"/><ellipse class="t" cx="1287" cy="639" rx="2.4" ry="1.3" transform="rotate(25 1287 639)"/><ellipse class="t" cx="1097" cy="561" rx="2.8" ry="1.4" transform="rotate(25 1097 561)"/><ellipse class="t" cx="1150" cy="583" rx="2.8" ry="1.4" transform="rotate(25 1150 583)"/><ellipse class="t" cx="1216" cy="607" rx="2.8" ry="1.4" transform="rotate(25 1216 607)"/><ellipse class="t" cx="1240" cy="623" rx="2.8" ry="1.4" transform="rotate(25 1240 623)"/><path class="o" d="M1097.83,512.1L1090.86,525.36Q1092.67,528.57 1096.34,528.24L1103.32,514.99Z"/><ellipse class="o" cx="1101.04" cy="512.66" rx="4.6" ry="2.6" transform="rotate(27.76 1101.04 512.66)"/><ellipse class="o" cx="1101.6" cy="511.6" rx="4.3" ry="2.3" transform="rotate(27.76 1101.6 511.6)"/><ellipse class="t" cx="1101.6" cy="511.6" rx="1.6" ry="0.9" transform="rotate(27.76 1101.6 511.6)"/><path class="o" d="M1190.66,497.86L1184.4,511.07Q1186.34,514.21 1190,513.73L1196.26,500.52Z"/><ellipse class="o" cx="1193.89" cy="498.28" rx="4.6" ry="2.6" transform="rotate(25.35 1193.89 498.28)"/><ellipse class="o" cx="1194.4" cy="497.2" rx="4.3" ry="2.3" transform="rotate(25.35 1194.4 497.2)"/><ellipse class="t" cx="1194.4" cy="497.2" rx="1.6" ry="0.9" transform="rotate(25.35 1194.4 497.2)"/><path class="o" d="M1210.69,505.22L1205.14,518.4Q1207.22,521.44 1210.86,520.8L1216.4,507.63Z"/><ellipse class="o" cx="1213.93" cy="505.51" rx="4.6" ry="2.6" transform="rotate(22.83 1213.93 505.51)"/><ellipse class="o" cx="1214.4" cy="504.4" rx="4.3" ry="2.3" transform="rotate(22.83 1214.4 504.4)"/><ellipse class="t" cx="1214.4" cy="504.4" rx="1.6" ry="0.9" transform="rotate(22.83 1214.4 504.4)"/><path class="o" d="M1256.31,499.73L1251.51,512.08Q1253.68,515.06 1257.29,514.32L1262.09,501.97Z"/><ellipse class="o" cx="1259.57" cy="499.92" rx="4.6" ry="2.6" transform="rotate(21.25 1259.57 499.92)"/><ellipse class="o" cx="1260" cy="498.8" rx="4.3" ry="2.3" transform="rotate(21.25 1260 498.8)"/><ellipse class="t" cx="1260" cy="498.8" rx="1.6" ry="0.9" transform="rotate(21.25 1260 498.8)"/><path class="o" d="M1277.07,506.75L1271.57,519.14Q1273.59,522.23 1277.23,521.66L1282.74,509.27Z"/><ellipse class="o" cx="1280.31" cy="507.1" rx="4.6" ry="2.6" transform="rotate(23.96 1280.31 507.1)"/><ellipse class="o" cx="1280.8" cy="506" rx="4.3" ry="2.3" transform="rotate(23.96 1280.8 506)"/><ellipse class="t" cx="1280.8" cy="506" rx="1.6" ry="0.9" transform="rotate(23.96 1280.8 506)"/><path class="o" d="M1302.64,596.98L1296.43,609.41Q1298.31,612.59 1301.97,612.19L1308.19,599.75Z"/><ellipse class="o" cx="1305.86" cy="597.47" rx="4.6" ry="2.6" transform="rotate(26.57 1305.86 597.47)"/><ellipse class="o" cx="1306.4" cy="596.4" rx="4.3" ry="2.3" transform="rotate(26.57 1306.4 596.4)"/><ellipse class="t" cx="1306.4" cy="596.4" rx="1.6" ry="0.9" transform="rotate(26.57 1306.4 596.4)"/><ellipse class="on" cx="1110.8" cy="598.8" rx="12.8" ry="4.7"/><ellipse class="on" cx="1110.8" cy="598.5" rx="10.2" ry="2.4"/><ellipse class="on" cx="1056" cy="616.8" rx="13.4" ry="5"/><ellipse class="on" cx="1056" cy="616.5" rx="10.8" ry="2.7"/><path class="o" d="M1097.8,615.3V648.1A12.7,4.5 0 0 0 1123.2,648.1V615.3Z"/><ellipse class="o" cx="1110.5" cy="615.3" rx="12.7" ry="4.5"/><ellipse class="m" cx="1110.5" cy="615.5" rx="4.45" ry="1.57"/><path class="t" d="M1097.8,621.3A12.7,4.5 0 0 0 1123.2,621.3"/><path class="o" d="M1043.2,632.9V660.5A12.8,4.5 0 0 0 1068.8,660.5V632.9Z"/><ellipse class="o" cx="1056" cy="632.9" rx="12.8" ry="4.5"/><ellipse class="m" cx="1056" cy="633.1" rx="4.48" ry="1.57"/><path class="t" d="M1043.2,638.9A12.8,4.5 0 0 0 1068.8,638.9"/><path class="o" d="M1164.2,683.5V710.5Q1168.4,714 1172.6,710.5V683.5Z"/><path class="o" d="M1162,681.5V686Q1168.4,689 1174.8,686V681.5Z"/><ellipse class="o" cx="1168.4" cy="681.5" rx="6.4" ry="2.3"/><ellipse class="t" cx="1168.4" cy="681.6" rx="3" ry="1"/><polygon points="833.5,701.5 837.8,691.9 910.2,661 944.3,655.1 952.9,655.7 1025,681.2 1124.7,718.1 1132.2,719.1 1142.9,721.8 1173.8,729.3 1174.5,735.5 1181.2,751.6 1185.5,760 1194,770.7 1200.4,781.3 1201.5,792 1196.1,804.8 1194,811.1 1174.8,819.7 1172.7,824 1170.6,837.8 1174.8,842 1173.8,855.9 1158.8,853.8 1138.6,862.3 1120.5,867.6 1119.4,876.1 1083.2,877.2 1068.3,876.1 1031,873 1025,869.7 984.8,854.8 965.6,853.8 963.5,847.4 942.2,841 918.8,832.5 901.7,831.4 896.4,826.1 867.6,815.4 838.9,803 835.7,796.6 834.6,792.3 835.7,780.6 838.9,762.5 842,754 846.3,743.3 852.7,726.2 857,717.7 846.3,711.3 836.7,710.3 833.5,705" fill="#fff" stroke="#111" stroke-width="2.2" stroke-linejoin="round"/><polyline points="833.5,701.5 836.7,698.3 1010.5,760.7" fill="none" stroke="#111" stroke-width="2.3" stroke-linejoin="round"/><polyline class="on" points="846,694.5 942,659.5 955.5,662 1030,688.5 1126,722 1165,731"/><polyline class="on" points="848,699.5 1004,755"/><polyline class="t" points="851,697.3 1004,752"/><path class="mw" d="M1005.9,760.7Q1003,766 1007.5,770.5L1017.5,772.5L1021.6,766Z"/><path class="on" d="M934,680 C934.67,680.67 936.83,681.67 938,684 C939.17,686.33 939.5,691.5 941,694 C942.5,696.5 945,698.5 947,699 C949,699.5 951.33,698.67 953,697 C954.67,695.33 955.67,691.33 957,689 C958.33,686.67 960.33,684 961,683"/><path class="t" d="M938,682 C938.83,683.67 941.17,689.83 943,692 C944.83,694.17 947,695.33 949,695 C951,694.67 954,690.83 955,690"/><polyline class="m" points="957,689 963,688 966,692 972,694"/><polyline class="t" points="944,699 944,712"/><polyline class="t" points="949,700 949,713"/><polyline class="t" points="952,671 956,664 962,666 960,676 955,683"/><polyline class="t" points="964,669 965,690"/><polyline class="t" points="967,670 968,691"/><polygon class="mw" points="887.5,706 887.5,689.4 891,681.5 897,677 906,674.5 924,673.3 930,675.5 933.5,680 935,690.5 936,704 926,709 900,710"/><ellipse class="m" cx="913" cy="683.2" rx="16.8" ry="7.2"/><ellipse class="t" cx="913" cy="683.2" rx="14.6" ry="6.1"/><ellipse class="on" cx="913" cy="683.2" rx="12" ry="5"/><ellipse class="t" cx="894.6" cy="689.5" rx="2.2" ry="1.1"/><ellipse class="t" cx="931" cy="676.5" rx="2.2" ry="1.1"/><polyline class="t" points="893,691 893,707"/><polyline class="t" points="933,688 933,705"/><polyline class="t" points="905,690 905,709"/><polyline class="t" points="908,690 908,709"/><polyline class="t" points="920,690 920,709"/><polyline class="t" points="887.5,696 900,699 926,697 935,694"/><path class="m" d="M872,700 C872.67,699.17 874.33,695.5 876,695 C877.67,694.5 880.08,696.17 882,697 C883.92,697.83 886.58,699.5 887.5,700"/><path class="m" d="M905,711 C905.83,711.83 908.17,714.5 910,716 C911.83,717.5 914,720 916,720 C918,720 920.5,717.33 922,716 C923.5,714.67 924.5,712.67 925,712"/><line class="t" x1="909" y1="713" x2="911" y2="719"/><line class="t" x1="911.2" y1="714.2" x2="913.2" y2="720.2"/><line class="t" x1="913.4" y1="715.4" x2="915.4" y2="721.4"/><line class="t" x1="915.6" y1="716.6" x2="917.6" y2="722.6"/><path class="on" d="M1001.2,704.6 C1001.87,705.27 1004.03,706.27 1005.2,708.6 C1006.37,710.93 1006.7,716.1 1008.2,718.6 C1009.7,721.1 1012.2,723.1 1014.2,723.6 C1016.2,724.1 1018.53,723.27 1020.2,721.6 C1021.87,719.93 1022.87,715.93 1024.2,713.6 C1025.53,711.27 1027.53,708.6 1028.2,707.6"/><path class="t" d="M1005.2,706.6 C1006.03,708.27 1008.37,714.43 1010.2,716.6 C1012.03,718.77 1014.2,719.93 1016.2,719.6 C1018.2,719.27 1021.2,715.43 1022.2,714.6"/><polyline class="m" points="1024.2,713.6 1030.2,712.6 1033.2,716.6 1039.2,718.6"/><polyline class="t" points="1011.2,723.6 1011.2,736.6"/><polyline class="t" points="1016.2,724.6 1016.2,737.6"/><polyline class="t" points="1019.2,695.6 1023.2,688.6 1029.2,690.6 1027.2,700.6 1022.2,707.6"/><polyline class="t" points="1031.2,693.6 1032.2,714.6"/><polyline class="t" points="1034.2,694.6 1035.2,715.6"/><polygon class="mw" points="954.7,730.6 954.7,714 958.2,706.1 964.2,701.6 973.2,699.1 991.2,697.9 997.2,700.1 1000.7,704.6 1002.2,715.1 1003.2,728.6 993.2,733.6 967.2,734.6"/><ellipse class="m" cx="980.2" cy="707.8" rx="16.8" ry="7.2"/><ellipse class="t" cx="980.2" cy="707.8" rx="14.6" ry="6.1"/><ellipse class="on" cx="980.2" cy="707.8" rx="12" ry="5"/><ellipse class="t" cx="961.8" cy="714.1" rx="2.2" ry="1.1"/><ellipse class="t" cx="998.2" cy="701.1" rx="2.2" ry="1.1"/><polyline class="t" points="960.2,715.6 960.2,731.6"/><polyline class="t" points="1000.2,712.6 1000.2,729.6"/><polyline class="t" points="972.2,714.6 972.2,733.6"/><polyline class="t" points="975.2,714.6 975.2,733.6"/><polyline class="t" points="987.2,714.6 987.2,733.6"/><polyline class="t" points="954.7,720.6 967.2,723.6 993.2,721.6 1002.2,718.6"/><path class="m" d="M939.2,724.6 C939.87,723.77 941.53,720.1 943.2,719.6 C944.87,719.1 947.28,720.77 949.2,721.6 C951.12,722.43 953.78,724.1 954.7,724.6"/><path class="m" d="M972.2,735.6 C973.03,736.43 975.37,739.1 977.2,740.6 C979.03,742.1 981.2,744.6 983.2,744.6 C985.2,744.6 987.7,741.93 989.2,740.6 C990.7,739.27 991.7,737.27 992.2,736.6"/><line class="t" x1="976.2" y1="737.6" x2="978.2" y2="743.6"/><line class="t" x1="978.4" y1="738.8" x2="980.4" y2="744.8"/><line class="t" x1="980.6" y1="740" x2="982.6" y2="746"/><line class="t" x1="982.8" y1="741.2" x2="984.8" y2="747.2"/><path class="on" d="M1068.4,729.2 C1069.07,729.87 1071.23,730.87 1072.4,733.2 C1073.57,735.53 1073.9,740.7 1075.4,743.2 C1076.9,745.7 1079.4,747.7 1081.4,748.2 C1083.4,748.7 1085.73,747.87 1087.4,746.2 C1089.07,744.53 1090.07,740.53 1091.4,738.2 C1092.73,735.87 1094.73,733.2 1095.4,732.2"/><path class="t" d="M1072.4,731.2 C1073.23,732.87 1075.57,739.03 1077.4,741.2 C1079.23,743.37 1081.4,744.53 1083.4,744.2 C1085.4,743.87 1088.4,740.03 1089.4,739.2"/><polyline class="m" points="1091.4,738.2 1097.4,737.2 1100.4,741.2 1106.4,743.2"/><polyline class="t" points="1078.4,748.2 1078.4,761.2"/><polyline class="t" points="1083.4,749.2 1083.4,762.2"/><polyline class="t" points="1086.4,720.2 1090.4,713.2 1096.4,715.2 1094.4,725.2 1089.4,732.2"/><polyline class="t" points="1098.4,718.2 1099.4,739.2"/><polyline class="t" points="1101.4,719.2 1102.4,740.2"/><polygon class="mw" points="1021.9,755.2 1021.9,738.6 1025.4,730.7 1031.4,726.2 1040.4,723.7 1058.4,722.5 1064.4,724.7 1067.9,729.2 1069.4,739.7 1070.4,753.2 1060.4,758.2 1034.4,759.2"/><ellipse class="m" cx="1047.4" cy="732.4" rx="16.8" ry="7.2"/><ellipse class="t" cx="1047.4" cy="732.4" rx="14.6" ry="6.1"/><ellipse class="on" cx="1047.4" cy="732.4" rx="12" ry="5"/><ellipse class="t" cx="1029" cy="738.7" rx="2.2" ry="1.1"/><ellipse class="t" cx="1065.4" cy="725.7" rx="2.2" ry="1.1"/><polyline class="t" points="1027.4,740.2 1027.4,756.2"/><polyline class="t" points="1067.4,737.2 1067.4,754.2"/><polyline class="t" points="1039.4,739.2 1039.4,758.2"/><polyline class="t" points="1042.4,739.2 1042.4,758.2"/><polyline class="t" points="1054.4,739.2 1054.4,758.2"/><polyline class="t" points="1021.9,745.2 1034.4,748.2 1060.4,746.2 1069.4,743.2"/><path class="m" d="M1006.4,749.2 C1007.07,748.37 1008.73,744.7 1010.4,744.2 C1012.07,743.7 1014.48,745.37 1016.4,746.2 C1018.32,747.03 1020.98,748.7 1021.9,749.2"/><path class="m" d="M1039.4,760.2 C1040.23,761.03 1042.57,763.7 1044.4,765.2 C1046.23,766.7 1048.4,769.2 1050.4,769.2 C1052.4,769.2 1054.9,766.53 1056.4,765.2 C1057.9,763.87 1058.9,761.87 1059.4,761.2"/><line class="t" x1="1043.4" y1="762.2" x2="1045.4" y2="768.2"/><line class="t" x1="1045.6" y1="763.4" x2="1047.6" y2="769.4"/><line class="t" x1="1047.8" y1="764.6" x2="1049.8" y2="770.6"/><line class="t" x1="1050" y1="765.8" x2="1052" y2="771.8"/><polyline class="t" points="850,705 870,712 1000,757"/><polyline class="t" points="858,690 935,663"/><polyline class="t" points="930,700 1045,740"/><polyline class="t" points="955,690 1080,735"/><polyline class="t" points="1060,745 1100,758"/><polygon class="mw" points="1048.1,747.7 1088.7,733.3 1114.8,741.8 1114.8,752 1090,760 1076.1,766 1076.1,752.2"/><polyline class="m" points="1076.1,752.2 1114.8,741.8"/><polyline class="m" points="1048.1,747.7 1048.5,756 1062,760"/><line class="t" x1="1079" y1="754.5" x2="1079" y2="760"/><line class="t" x1="1083.6" y1="753.25" x2="1083.6" y2="758.75"/><line class="t" x1="1088.2" y1="752" x2="1088.2" y2="757.5"/><line class="t" x1="1092.8" y1="750.75" x2="1092.8" y2="756.25"/><line class="t" x1="1097.4" y1="749.5" x2="1097.4" y2="755"/><line class="t" x1="1102" y1="748.25" x2="1102" y2="753.75"/><line class="t" x1="1106.6" y1="747" x2="1106.6" y2="752.5"/><ellipse class="t" cx="1067.5" cy="744" rx="1.8" ry="1"/><ellipse class="t" cx="1094.5" cy="739.5" rx="1.8" ry="1"/><polygon class="tw" points="1132.9,731.5 1147.3,724.3 1165.3,730.6 1151.8,740.5"/><polyline class="t" points="1136,731.5 1147.5,726.5 1161,731 1151.5,737.5 1136,731.5"/><path class="m" d="M1114.8,745 C1115.33,743.83 1116.47,739.58 1118,738 C1119.53,736.42 1122.33,735.33 1124,735.5 C1125.67,735.67 1127.25,736.92 1128,739 C1128.75,741.08 1128.42,746.5 1128.5,748"/><path class="m" d="M1096,728 C1096.5,727 1097.33,723.17 1099,722 C1100.67,720.83 1104.17,720.33 1106,721 C1107.83,721.67 1109.33,725.17 1110,726"/><polyline class="t" points="1098,729 1098,740"/><polyline class="t" points="1108,726 1109,737"/><polyline points="1017,772 1040,781 1067,774.8 1072,776 1076,779 1080,780.2 1085.1,779.3 1090.5,773.9 1094.1,766.6 1130.2,753.1 1134.7,756.7 1139.2,759.4 1146.4,756.7 1150.9,747.7 1171.7,738.7 1174.4,733.3" fill="none" stroke="#111" stroke-width="2.3" stroke-linejoin="round"/><polyline class="on" points="1019,767 1040,774 1069.8,769.4 1073,771.5 1077,775 1082,775.5 1086.5,772 1090.5,762.1 1130.2,747.7 1135.6,753.1 1141,756.7 1146.4,753.1 1150,741.4 1164.4,733.3 1170,731.5"/><polyline class="t" points="835,712 1008,773"/><polyline class="t" points="836,718 1008,779"/><polyline class="t" points="842,790 965,835"/><polyline class="t" points="838,797 963,843"/><polygon points="829,712 846.3,711.8 856.5,718 852.2,726.2 846,743.3 841.8,754 838.6,762.5 835.4,780.6 829,800" fill="#fff" stroke="none"/><polyline class="on" points="857,717.7 852.7,726.2 846.3,743.3 842,754 838.9,762.5 835.7,780.6 834.6,792.3"/><polygon class="mw" points="833.8,703 838,699.5 850,703.5 857,708 857,712.5 846.3,711.3 836.7,710.3"/><polyline class="t" points="838,703.5 850,706.5 855,709.5"/><path class="o" d="M846,730 C847.5,725.5 848.67,723.17 852,721 C855.33,718.83 860.5,717.33 866,717 C871.5,716.67 879.67,717.5 885,719 C890.33,720.5 894.5,724 898,726 C901.5,728 904.5,728.33 906,731 C907.5,733.67 908,737.17 907,742 C906,746.83 902.83,755.33 900,760 C897.17,764.67 894.5,767.83 890,770 C885.5,772.17 878.5,773 873,773 C867.5,773 861.17,771.83 857,770 C852.83,768.17 850.33,765.67 848,762 C845.67,758.33 843.33,753.33 843,748 C842.67,742.67 844.5,734.5 846,730Z"/><ellipse class="on" cx="877.5" cy="745" rx="18.5" ry="24.5" transform="rotate(18 877.5 745)"/><ellipse class="m" cx="878.5" cy="745.5" rx="15.5" ry="21.5" transform="rotate(18 878.5 745.5)"/><ellipse class="t" cx="879.5" cy="746" rx="12.8" ry="18.5" transform="rotate(18 879.5 746)"/><path class="m" d="M873,746L889,735L893,745L881,760Z"/><ellipse class="m" cx="904.5" cy="732.5" rx="1.6" ry="2.2"/><ellipse class="m" cx="852.7" cy="754.7" rx="1.6" ry="2.2"/><polyline class="t" points="850,717.09 1012,775.41"/><polyline class="t" points="860,725.69 1012,780.41"/><polyline class="t" points="890,750.49 1015,795.49"/><polyline class="t" points="895,757.29 1015,800.49"/><polyline class="t" points="900,773.09 1018,815.57"/><polyline class="t" points="905,779.89 1018,820.57"/><polyline class="t" points="840,769.49 975,818.09"/><polyline class="t" points="845,777.29 990,829.49"/><polyline class="t" points="880,805.89 1020,856.29"/><polyline class="on" points="959.4,742.5 952.1,779.5"/><polyline class="t" points="963,744 955.5,780.5"/><polyline class="t" points="1003,758 996,792"/><polyline class="t" points="1008,760 1001,795"/><path class="t" d="M921,770A9,7.2 0 0 1 939,772"/><path class="t" d="M937,776A7,5.6 0 0 1 951,778"/><path class="t" d="M967,785A8,6.4 0 0 1 983,787"/><path class="t" d="M984,792A6,4.8 0 0 1 996,794"/><path class="t" d="M993,770A7,5.6 0 0 1 1007,772"/><path class="t" d="M907,760A8,6.4 0 0 1 923,762"/><path class="t" d="M958,805A7,5.6 0 0 1 972,807"/><path class="t" d="M905,748 C906.67,748.67 911.17,751.67 915,752 C918.83,752.33 924.5,751.33 928,750 C931.5,748.67 934.67,745 936,744"/><path class="t" d="M930,790 C932.5,789 939.67,784.33 945,784 C950.33,783.67 959.17,787.33 962,788"/><path class="m" d="M934,742 C934.5,743 935.33,746.67 937,748 C938.67,749.33 942.17,750.5 944,750 C945.83,749.5 947.33,745.83 948,745"/><path class="m" d="M998,772 C998.5,772.83 999.33,775.83 1001,777 C1002.67,778.17 1006.17,779.5 1008,779 C1009.83,778.5 1011.33,774.83 1012,774"/><polyline class="t" points="942,760 950,748 966,752 972,762 960,770 948,768 942,760"/><polyline class="t" points="985,770 990,760 1000,764"/><path class="mw" d="M839.7,780.08 C840.93,775.11 843.59,765.93 848.06,763.5 C852.53,761.07 860.67,762.18 866.54,765.5 C872.41,768.82 880.34,778.48 883.3,783.39 C886.26,788.31 884.97,790.95 884.3,794.98 C883.63,799.01 883.38,805.66 879.3,807.6 C875.22,809.54 866.25,808.98 859.82,806.6 C853.39,804.22 844.05,797.74 840.7,793.32 C837.35,788.91 838.47,785.06 839.7,780.08Z"/><path class="on" d="M844.7,780.08 C845.37,776.36 845.82,770.26 849.74,768.5 C853.66,766.74 863.46,766.74 868.22,769.5 C872.98,772.26 876.79,780.53 878.3,785.05 C879.81,789.57 879.54,793.88 877.3,796.63 C875.06,799.39 868.89,801.11 864.86,801.6 C860.83,802.09 856.29,801.39 853.1,799.6 C849.91,797.81 847.1,794.1 845.7,790.84 C844.3,787.59 844.03,783.81 844.7,780.08Z"/><path class="t" d="M852.26,771.5 C854.08,773.42 860.8,778.37 863.18,783.05 C865.56,787.73 865.98,796.84 866.54,799.6"/><path class="t" d="M848.7,785.05 C850.83,786.02 857.07,790.29 861.5,790.84 C865.93,791.39 873,788.77 875.3,788.36"/><ellipse class="mw" cx="839.4" cy="785.6" rx="2.1" ry="2.6"/><ellipse class="mw" cx="883.6" cy="782.9" rx="2.1" ry="2.6"/><path class="mw" d="M907.4,804.2 C908.63,799.37 911.28,790.37 915.81,788 C920.34,785.63 928.62,786.77 934.57,790 C940.51,793.23 948.51,802.63 951.5,807.4 C954.49,812.17 953.17,814.67 952.5,818.6 C951.83,822.53 951.63,829.1 947.5,831 C943.37,832.9 934.26,832.33 927.75,830 C921.23,827.67 911.79,821.3 908.4,817 C905.01,812.7 906.16,809.03 907.4,804.2Z"/><path class="on" d="M912.4,804.2 C913.09,800.6 913.54,794.7 917.51,793 C921.49,791.3 931.44,791.33 936.27,794 C941.1,796.67 944.96,804.63 946.5,809 C948.04,813.37 947.77,817.53 945.5,820.2 C943.23,822.87 936.96,824.53 932.86,825 C928.76,825.47 924.17,824.73 920.93,823 C917.68,821.27 914.82,817.73 913.4,814.6 C911.98,811.47 911.71,807.8 912.4,804.2Z"/><path class="t" d="M920.07,796 C921.92,797.83 928.74,802.5 931.16,807 C933.57,811.5 934,820.33 934.57,823"/><path class="t" d="M916.4,809 C918.58,809.93 924.93,814.07 929.45,814.6 C933.97,815.13 941.16,812.6 943.5,812.2"/><ellipse class="mw" cx="907" cy="791.4" rx="2.1" ry="2.6"/><ellipse class="mw" cx="950.7" cy="826.6" rx="2.1" ry="2.6"/><path class="mw" d="M974.5,828.7 C975.72,823.87 978.39,814.87 982.8,812.5 C987.21,810.13 995.17,811.27 1000.95,814.5 C1006.73,817.73 1014.58,827.13 1017.5,831.9 C1020.42,836.67 1019.17,839.17 1018.5,843.1 C1017.83,847.03 1017.52,853.6 1013.5,855.5 C1009.48,857.4 1000.68,856.83 994.35,854.5 C988.02,852.17 978.81,845.8 975.5,841.5 C972.19,837.2 973.28,833.53 974.5,828.7Z"/><path class="on" d="M979.5,828.7 C980.16,825.1 980.6,819.2 984.45,817.5 C988.3,815.8 997.93,815.83 1002.6,818.5 C1007.27,821.17 1011.02,829.13 1012.5,833.5 C1013.98,837.87 1013.7,842.03 1011.5,844.7 C1009.3,847.37 1003.26,849.03 999.3,849.5 C995.34,849.97 990.88,849.23 987.75,847.5 C984.62,845.77 981.88,842.23 980.5,839.1 C979.12,835.97 978.84,832.3 979.5,828.7Z"/><path class="t" d="M986.92,820.5 C988.71,822.33 995.31,827 997.65,831.5 C999.99,836 1000.4,844.83 1000.95,847.5"/><path class="t" d="M983.5,833.5 C985.58,834.43 991.67,838.57 996,839.1 C1000.33,839.63 1007.25,837.1 1009.5,836.7"/><ellipse class="mw" cx="974.2" cy="815.4" rx="2.1" ry="2.6"/><ellipse class="mw" cx="1017.9" cy="849.5" rx="2.1" ry="2.6"/><ellipse class="mw" cx="871" cy="809.5" rx="3.5" ry="2.5" transform="rotate(25 871 809.5)"/><ellipse class="t" cx="871" cy="809.5" rx="1.5" ry="1.1" transform="rotate(25 871 809.5)"/><ellipse class="mw" cx="938.5" cy="835.5" rx="3.5" ry="2.5" transform="rotate(25 938.5 835.5)"/><ellipse class="t" cx="938.5" cy="835.5" rx="1.5" ry="1.1" transform="rotate(25 938.5 835.5)"/><ellipse class="mw" cx="1005" cy="860" rx="3.5" ry="2.5" transform="rotate(25 1005 860)"/><ellipse class="t" cx="1005" cy="860" rx="1.5" ry="1.1" transform="rotate(25 1005 860)"/><polyline class="t" points="900,831 903,822 912,821"/><polyline class="t" points="965,853 968,845 978,845"/><polyline class="t" points="890,778 905,760 925,752 950,762 968,770"/><polyline class="t" points="906,800 906,772"/><polyline class="t" points="973,812 973,790"/><polyline class="t" points="955,790 975,782 1000,790 1016,800"/><polyline class="t" points="1020,810 1020,782"/><path class="t" d="M880,790 C882.5,788.33 889.67,782.33 895,780 C900.33,777.67 906.17,776.33 912,776 C917.83,775.67 927,777.67 930,778"/><path class="t" d="M948,812 C950.83,810 958.83,802.83 965,800 C971.17,797.17 979.17,795.5 985,795 C990.83,794.5 997.5,796.67 1000,797"/><path class="on" d="M1019.3,776 C1019.58,779.17 1020.47,790.2 1021,795 C1021.53,799.8 1021.18,801.22 1022.5,804.8 C1023.82,808.38 1026.42,812.25 1028.9,816.5 C1031.38,820.75 1034.55,826.72 1037.4,830.3 C1040.25,833.88 1043.9,835.05 1046,838 C1048.1,840.95 1049.33,846.33 1050,848"/><polyline class="t" points="1025,778 1027,805 1033,818 1041,830"/><polyline class="t" points="1031,780 1032,806 1038,818"/><path class="m" d="M1047,789 C1048.5,790.17 1052.67,794.5 1056,796 C1059.33,797.5 1063,798.67 1067,798 C1071,797.33 1075.33,794.5 1080,792 C1084.67,789.5 1090,784.83 1095,783 C1100,781.17 1105,780.83 1110,781 C1115,781.17 1120.13,783.23 1125,784 C1129.87,784.77 1135.03,785.93 1139.2,785.6 C1143.37,785.27 1147,783.2 1150,782 C1153,780.8 1154.87,781.07 1157.2,778.4 C1159.53,775.73 1162.5,769.47 1164,766 C1165.5,762.53 1165.23,761.77 1166.2,757.6 C1167.17,753.43 1169.2,743.77 1169.8,741"/><path class="t" d="M1050,785 C1051.33,786.17 1055,790.58 1058,792 C1061,793.42 1064.17,794.25 1068,793.5 C1071.83,792.75 1076.33,789.92 1081,787.5 C1085.67,785.08 1091,780.75 1096,779 C1101,777.25 1106,776.83 1111,777 C1116,777.17 1121.33,779.25 1126,780 C1130.67,780.75 1135,781.83 1139,781.5 C1143,781.17 1147.17,779.42 1150,778 C1152.83,776.58 1154.17,775.67 1156,773 C1157.83,770.33 1159.83,765.5 1161,762 C1162.17,758.5 1162.17,755.5 1163,752 C1163.83,748.5 1165.5,742.83 1166,741"/><ellipse class="on" cx="1122.1" cy="804.8" rx="8.3" ry="13.3" transform="rotate(12 1122.1 804.8)"/><ellipse class="t" cx="1123.5" cy="804.8" rx="6.3" ry="11.5" transform="rotate(12 1123.5 804.8)"/><polyline class="t" points="1039,832 1062,872"/><polyline class="t" points="1050,830 1075,872"/><polyline class="t" points="1178,757 1185,790 1180,806"/><polyline class="t" points="1183,765 1192,790 1188,806"/><polyline class="t" points="1095,858 1160,842"/><polyline class="t" points="1088,862 1160,846"/><path class="mw" d="M1107,863V873Q1113,876 1119,873V863Z"/><ellipse class="mw" cx="1113" cy="863" rx="6" ry="2.4"/><ellipse class="t" cx="1113" cy="863" rx="2.5" ry="1"/><path class="mw" d="M1161,844V854Q1167,857 1173,854V844Z"/><ellipse class="mw" cx="1167" cy="844" rx="6" ry="2.4"/><ellipse class="t" cx="1167" cy="844" rx="2.5" ry="1"/><path class="mw" d="M1034,867V877Q1040,880 1046,877V867Z"/><ellipse class="mw" cx="1040" cy="867" rx="6" ry="2.4"/><ellipse class="t" cx="1040" cy="867" rx="2.5" ry="1"/><path class="o" d="M666,666.5L678.5,670Q680.5,671.5 679.3,674L678,675.8L664.5,672.5Z"/><ellipse class="o" cx="664.8" cy="666.3" rx="4.2" ry="5.6" transform="rotate(18 664.8 666.3)"/><ellipse class="t" cx="664.6" cy="666.2" rx="2.1" ry="3" transform="rotate(18 664.6 666.2)"/><path class="o" d="M692,653 C684.48,658.45 685.85,669.53 684.3,674.7 C682.75,679.87 681.67,681.92 682.7,684 C683.73,686.08 686.87,685.37 690.5,687.2 C694.13,689.03 700.35,693.32 704.5,695 C708.65,696.68 711.52,697.82 715.4,697.3 C719.28,696.78 724.17,694.62 727.8,691.9 C731.43,689.18 734.33,684.9 737.2,681 C740.07,677.1 742.93,672.4 745,668.5 C747.07,664.6 749.35,660.72 749.6,657.6 C749.85,654.48 748.57,651.62 746.5,649.8 C744.43,647.98 740.05,648 737.2,646.7 C734.35,645.4 736.93,640.95 729.4,642 C721.87,643.05 699.52,647.55 692,653Z"/><ellipse class="m" cx="687.8" cy="680.5" rx="2.3" ry="2.8"/><ellipse class="m" cx="740.5" cy="655" rx="2.3" ry="2.8"/><path class="o" d="M696.7,614L693.6,654.5Q700,666 712,666Q724,664 727.8,642L731,614Z"/><ellipse class="o" cx="713.8" cy="613.6" rx="17.2" ry="5.2"/><ellipse class="m" cx="713.8" cy="613.9" rx="13.6" ry="3.6"/><polyline class="t" points="696.7,619 731,619"/><polyline class="t" points="696.5,621.5 730.8,621.5"/><path class="t" d="M693.6,654.5 C693,656.75 689.43,663.42 690,668 C690.57,672.58 692.83,678.33 697,682 C701.17,685.67 708.67,690.33 715,690 C721.33,689.67 730.5,684.33 735,680 C739.5,675.67 741.17,668.67 742,664 C742.83,659.33 740.33,654 740,652"/><path class="t" d="M697,660 C697.5,662 697.17,668.67 700,672 C702.83,675.33 709.33,679.67 714,680 C718.67,680.33 724.83,677.33 728,674 C731.17,670.67 732.17,662.33 733,660"/><path class="t" d="M700,650 C701,652.33 703,661 706,664 C709,667 714,670 718,668 C722,666 728,654.67 730,652"/><path class="o" d="M743.4,681 C744.95,678.42 747,674.9 749.6,673.2 C752.2,671.5 755.62,671.2 759,670.8 C762.38,670.4 766.53,669.63 769.9,670.8 C773.27,671.97 777,675.07 779.2,677.8 C781.4,680.53 782.58,683.57 783.1,687.2 C783.62,690.83 783.47,695.45 782.3,699.6 C781.13,703.75 778.95,709.23 776.1,712.1 C773.25,714.97 769.08,716.15 765.2,716.8 C761.32,717.45 756.43,717.3 752.8,716 C749.17,714.7 745.62,711.73 743.4,709 C741.18,706.27 740.02,702.98 739.5,699.6 C738.98,696.22 739.65,691.8 740.3,688.7 C740.95,685.6 741.85,683.58 743.4,681Z"/><path class="m" d="M745.7,682.5 C746.87,680.43 748.85,677.65 751.2,676.3 C753.55,674.95 756.95,674.62 759.8,674.4 C762.65,674.18 765.72,673.9 768.3,675 C770.88,676.1 773.68,678.45 775.3,681 C776.92,683.55 777.73,686.93 778,690.3 C778.27,693.67 778,697.95 776.9,701.2 C775.8,704.45 773.73,707.85 771.4,709.8 C769.07,711.75 765.88,712.57 762.9,712.9 C759.92,713.23 756.1,712.97 753.5,711.8 C750.9,710.63 748.85,708.45 747.3,705.9 C745.75,703.35 744.72,699.37 744.2,696.5 C743.68,693.63 743.95,691.03 744.2,688.7 C744.45,686.37 744.53,684.57 745.7,682.5Z"/><path class="t" d="M749.6,684.9 C750.58,683.27 752.42,680.88 754.3,679.7 C756.18,678.52 758.7,677.95 760.9,677.8 C763.1,677.65 765.57,677.8 767.5,678.8 C769.43,679.8 771.32,681.75 772.5,683.8 C773.68,685.85 774.43,688.47 774.6,691.1 C774.77,693.73 774.42,697.02 773.5,699.6 C772.58,702.18 770.95,704.98 769.1,706.6 C767.25,708.22 764.72,709.03 762.4,709.3 C760.08,709.57 757.12,709.17 755.2,708.2 C753.28,707.23 752.03,705.58 750.9,703.5 C749.77,701.42 748.82,698.03 748.4,695.7 C747.98,693.37 748.2,691.3 748.4,689.5 C748.6,687.7 748.62,686.53 749.6,684.9Z"/><path class="mw" d="M742.5,689L752,684.5L757,697L747.5,702Z"/><ellipse class="mw" cx="752.5" cy="685.5" rx="4.2" ry="3.2" transform="rotate(-25 752.5 685.5)"/><ellipse class="t" cx="750.6" cy="697.5" rx="4.5" ry="3" transform="rotate(-25 750.6 697.5)"/><polyline class="t" points="749,678 757,676.5 764,680"/><polyline class="t" points="748,705 756,709 766,708"/><ellipse class="m" cx="781" cy="686" rx="1.2" ry="1.6"/><ellipse class="m" cx="777.5" cy="709" rx="1.2" ry="1.6"/><ellipse class="m" cx="764" cy="714.5" rx="1.2" ry="1.6"/><ellipse class="on" cx="806.5" cy="713.3" rx="22.6" ry="25.3" transform="rotate(8 806.5 713.3)"/><ellipse class="m" cx="806.5" cy="713.3" rx="20.4" ry="23.1" transform="rotate(8 806.5 713.3)"/><path class="o" d="M746.5,801.6 L752,800.5 L920.3,865.9 L926.9,891.2 L923.6,894 L882.9,878 L880.7,867 L876.3,857.1 L860.9,854.9 L858.7,869.2 L848.8,868.1 L816.9,858.2 L811.4,842.8 L810.3,838.4 L789.4,828 L785,837.3 L778.4,843.9 L768.5,842.8 L749.8,834 L739.9,825.2 L738.8,818.6Z"/><ellipse class="on" cx="765" cy="823" rx="20.5" ry="13.8" transform="rotate(44 765 823)"/><ellipse class="m" cx="765" cy="823" rx="18" ry="11.5" transform="rotate(44 765 823)"/><ellipse class="t" cx="765" cy="823" rx="19.3" ry="12.7" transform="rotate(44 765 823)"/><ellipse class="on" cx="833.2" cy="846.4" rx="21" ry="14" transform="rotate(44 833.2 846.4)"/><ellipse class="m" cx="833.2" cy="846.4" rx="18.5" ry="11.7" transform="rotate(44 833.2 846.4)"/><ellipse class="t" cx="833.2" cy="846.4" rx="19.8" ry="12.9" transform="rotate(44 833.2 846.4)"/><ellipse class="on" cx="900.5" cy="870.8" rx="21" ry="14.2" transform="rotate(44 900.5 870.8)"/><ellipse class="m" cx="900.5" cy="870.8" rx="18.5" ry="11.9" transform="rotate(44 900.5 870.8)"/><ellipse class="t" cx="900.5" cy="870.8" rx="19.8" ry="13.1" transform="rotate(44 900.5 870.8)"/><ellipse class="mw" cx="743.7" cy="822.8" rx="2.2" ry="2.7"/><ellipse class="mw" cx="787" cy="820.5" rx="2.2" ry="2.7"/><ellipse class="mw" cx="810.4" cy="827.4" rx="2.2" ry="2.7"/><ellipse class="mw" cx="855" cy="861.2" rx="2.2" ry="2.7"/><ellipse class="mw" cx="878" cy="854" rx="2.2" ry="2.7"/><ellipse class="mw" cx="922.3" cy="888" rx="2.2" ry="2.7"/><ellipse class="m" cx="799" cy="820" rx="1.6" ry="2"/><ellipse class="m" cx="866" cy="844.8" rx="1.6" ry="2"/><polyline class="t" points="793,826 803,830"/><polyline class="t" points="793,828.5 803,832.5"/><polyline class="t" points="862,851 873,855"/><polyline class="t" points="862,853.5 873,857.5"/><path class="o" d="M934,874.5L960,867Q964,869 962.5,875L936.5,883Q932,883 931.5,879Z"/><ellipse class="o" cx="933.8" cy="878.8" rx="2.6" ry="4.5" transform="rotate(-18 933.8 878.8)"/><line class="t" x1="944" y1="871.5" x2="946.5" y2="880.5"/><line class="t" x1="948" y1="870.3" x2="950.5" y2="879.3"/><ellipse class="o" cx="983.6" cy="880" rx="4.3" ry="3.7" transform="rotate(-25 983.6 880)"/><ellipse class="m" cx="983.3" cy="879.6" rx="2.6" ry="2" transform="rotate(-25 983.3 879.6)"/><ellipse class="on" cx="1157.2" cy="877.6" rx="7.4" ry="11.6" transform="rotate(22 1157.2 877.6)"/><ellipse class="m" cx="1157.2" cy="877.6" rx="5.3" ry="9.5" transform="rotate(22 1157.2 877.6)"/><path class="o" d="M1168.5,878L1176,880L1181,882.5L1196,885.5L1203,886.5L1203,895L1196,893L1181,889.5L1176,890L1168,886.5Z"/><line class="t" x1="1176" y1="880" x2="1176" y2="890"/><line class="t" x1="1181" y1="882.5" x2="1181" y2="889.5"/><line class="t" x1="1172" y1="879" x2="1172" y2="888"/><ellipse class="o" cx="1211.2" cy="896.5" rx="9.8" ry="13.6" transform="rotate(12 1211.2 896.5)"/><ellipse class="t" cx="1212.5" cy="896.5" rx="7.6" ry="11.5" transform="rotate(12 1212.5 896.5)"/><ellipse class="t" cx="1213.5" cy="896.5" rx="1.4" ry="2" transform="rotate(12 1213.5 896.5)"/><path class="o" d="M1209.6,726L1215.8,725L1215.55,734.2L1210.8,735.2Z"/><path class="o" d="M1215.18,725.2L1221.5,724L1220.5,732.7L1216.05,734.2Z"/><line class="t" x1="1215.8" y1="727.5" x2="1220.2" y2="726.3"/><path class="o" d="M1366,716.2L1372.3,715.2L1372.05,723.4L1367.2,724.4Z"/><path class="o" d="M1371.67,715.4L1378.1,714.2L1377.1,721.9L1372.55,723.4Z"/><line class="t" x1="1372.3" y1="717.7" x2="1376.8" y2="716.5"/><path class="o" d="M1212.5,746.3V755.3Q1218.7,758.3 1224.9,755.3V746.3Z"/><ellipse class="o" cx="1218.7" cy="746.8" rx="11" ry="4.3" transform="rotate(-6 1218.7 746.8)"/><ellipse class="o" cx="1218.7" cy="745.3" rx="11" ry="4.3" transform="rotate(-6 1218.7 745.3)"/><ellipse class="m" cx="1218.7" cy="745.1" rx="5.28" ry="1.94" transform="rotate(-6 1218.7 745.1)"/><path class="o" d="M1363.9,734V741.1Q1370.2,744.1 1376.5,741.1V734Z"/><ellipse class="o" cx="1370.2" cy="734.5" rx="11.3" ry="3.9" transform="rotate(6 1370.2 734.5)"/><ellipse class="o" cx="1370.2" cy="733" rx="11.3" ry="3.9" transform="rotate(6 1370.2 733)"/><ellipse class="m" cx="1370.2" cy="732.8" rx="5.42" ry="1.75" transform="rotate(6 1370.2 732.8)"/><path d="M1214.1,791L1213.4,769.5A9.4,4.1 0 0 1 1232.2,769.5L1232.9,791A9.4,4.1 0 0 1 1214.1,791Z" fill="#fff" stroke="none"/><ellipse cx="1223.5" cy="791" rx="9.4" ry="4.1" transform="rotate(-7 1223.5 791)" fill="none" stroke="#111" stroke-width="1.5"/><ellipse cx="1223.8" cy="790.5" rx="6.96" ry="2.25" transform="rotate(-7 1223.5 791)" fill="none" stroke="#222" stroke-width="0.83"/><ellipse cx="1223.33" cy="785.62" rx="9.4" ry="4.1" transform="rotate(-7 1223.33 785.62)" fill="none" stroke="#111" stroke-width="1.5"/><ellipse cx="1223.62" cy="785.12" rx="6.96" ry="2.25" transform="rotate(-7 1223.33 785.62)" fill="none" stroke="#222" stroke-width="0.83"/><ellipse cx="1223.15" cy="780.25" rx="9.4" ry="4.1" transform="rotate(-7 1223.15 780.25)" fill="none" stroke="#111" stroke-width="1.5"/><ellipse cx="1223.45" cy="779.75" rx="6.96" ry="2.25" transform="rotate(-7 1223.15 780.25)" fill="none" stroke="#222" stroke-width="0.83"/><ellipse cx="1222.97" cy="774.88" rx="9.4" ry="4.1" transform="rotate(-7 1222.97 774.88)" fill="none" stroke="#111" stroke-width="1.5"/><ellipse cx="1223.27" cy="774.38" rx="6.96" ry="2.25" transform="rotate(-7 1222.97 774.88)" fill="none" stroke="#222" stroke-width="0.83"/><ellipse cx="1222.8" cy="769.5" rx="9.4" ry="4.1" transform="rotate(-7 1222.8 769.5)" fill="none" stroke="#111" stroke-width="1.5"/><ellipse cx="1223.1" cy="769" rx="6.96" ry="2.25" transform="rotate(-7 1222.8 769.5)" fill="none" stroke="#222" stroke-width="0.83"/><ellipse cx="1222.8" cy="769.5" rx="9.4" ry="4.1" transform="rotate(-7 1222.8 769.5)" fill="#fff" stroke="#111" stroke-width="1.5"/><ellipse cx="1223.1" cy="769.2" rx="6.58" ry="2.05" transform="rotate(-7 1222.8 769.5)" fill="none" stroke="#222" stroke-width="0.9"/><path d="M1218.1,769.09Q1222.8,770.93 1227.03,768.68" fill="none" stroke="#222" stroke-width="0.9"/><path d="M1355.8,777.5L1355.4,759A9.4,4 0 0 1 1374.2,759L1374.6,777.5A9.4,4 0 0 1 1355.8,777.5Z" fill="#fff" stroke="none"/><ellipse cx="1365.2" cy="777.5" rx="9.4" ry="4" transform="rotate(-7 1365.2 777.5)" fill="none" stroke="#111" stroke-width="1.5"/><ellipse cx="1365.5" cy="777" rx="6.96" ry="2.2" transform="rotate(-7 1365.2 777.5)" fill="none" stroke="#222" stroke-width="0.83"/><ellipse cx="1365.1" cy="772.88" rx="9.4" ry="4" transform="rotate(-7 1365.1 772.88)" fill="none" stroke="#111" stroke-width="1.5"/><ellipse cx="1365.4" cy="772.38" rx="6.96" ry="2.2" transform="rotate(-7 1365.1 772.88)" fill="none" stroke="#222" stroke-width="0.83"/><ellipse cx="1365" cy="768.25" rx="9.4" ry="4" transform="rotate(-7 1365 768.25)" fill="none" stroke="#111" stroke-width="1.5"/><ellipse cx="1365.3" cy="767.75" rx="6.96" ry="2.2" transform="rotate(-7 1365 768.25)" fill="none" stroke="#222" stroke-width="0.83"/><ellipse cx="1364.9" cy="763.62" rx="9.4" ry="4" transform="rotate(-7 1364.9 763.62)" fill="none" stroke="#111" stroke-width="1.5"/><ellipse cx="1365.2" cy="763.12" rx="6.96" ry="2.2" transform="rotate(-7 1364.9 763.62)" fill="none" stroke="#222" stroke-width="0.83"/><ellipse cx="1364.8" cy="759" rx="9.4" ry="4" transform="rotate(-7 1364.8 759)" fill="none" stroke="#111" stroke-width="1.5"/><ellipse cx="1365.1" cy="758.5" rx="6.96" ry="2.2" transform="rotate(-7 1364.8 759)" fill="none" stroke="#222" stroke-width="0.83"/><ellipse cx="1364.8" cy="759" rx="9.4" ry="4" transform="rotate(-7 1364.8 759)" fill="#fff" stroke="#111" stroke-width="1.5"/><ellipse cx="1365.1" cy="758.7" rx="6.58" ry="2" transform="rotate(-7 1364.8 759)" fill="none" stroke="#222" stroke-width="0.9"/><path d="M1360.1,758.6Q1364.8,760.4 1369.03,758.2" fill="none" stroke="#222" stroke-width="0.9"/><path d="M1218,842.5L1213.6,809.5A16.2,6.1 0 0 1 1246,809.5L1250.4,842.5A16.2,6.1 0 0 1 1218,842.5Z" fill="#fff" stroke="none"/><ellipse cx="1234.2" cy="842.5" rx="16.2" ry="6.1" transform="rotate(-8 1234.2 842.5)" fill="none" stroke="#111" stroke-width="1.9"/><ellipse cx="1234.5" cy="842" rx="11.99" ry="3.35" transform="rotate(-8 1234.2 842.5)" fill="none" stroke="#222" stroke-width="1.04"/><ellipse cx="1233.32" cy="835.9" rx="16.2" ry="6.1" transform="rotate(-8 1233.32 835.9)" fill="none" stroke="#111" stroke-width="1.9"/><ellipse cx="1233.62" cy="835.4" rx="11.99" ry="3.35" transform="rotate(-8 1233.32 835.9)" fill="none" stroke="#222" stroke-width="1.04"/><ellipse cx="1232.44" cy="829.3" rx="16.2" ry="6.1" transform="rotate(-8 1232.44 829.3)" fill="none" stroke="#111" stroke-width="1.9"/><ellipse cx="1232.74" cy="828.8" rx="11.99" ry="3.35" transform="rotate(-8 1232.44 829.3)" fill="none" stroke="#222" stroke-width="1.04"/><ellipse cx="1231.56" cy="822.7" rx="16.2" ry="6.1" transform="rotate(-8 1231.56 822.7)" fill="none" stroke="#111" stroke-width="1.9"/><ellipse cx="1231.86" cy="822.2" rx="11.99" ry="3.35" transform="rotate(-8 1231.56 822.7)" fill="none" stroke="#222" stroke-width="1.04"/><ellipse cx="1230.68" cy="816.1" rx="16.2" ry="6.1" transform="rotate(-8 1230.68 816.1)" fill="none" stroke="#111" stroke-width="1.9"/><ellipse cx="1230.98" cy="815.6" rx="11.99" ry="3.35" transform="rotate(-8 1230.68 816.1)" fill="none" stroke="#222" stroke-width="1.04"/><ellipse cx="1229.8" cy="809.5" rx="16.2" ry="6.1" transform="rotate(-8 1229.8 809.5)" fill="none" stroke="#111" stroke-width="1.9"/><ellipse cx="1230.1" cy="809" rx="11.99" ry="3.35" transform="rotate(-8 1229.8 809.5)" fill="none" stroke="#222" stroke-width="1.04"/><ellipse cx="1229.8" cy="809.5" rx="16.2" ry="6.1" transform="rotate(-8 1229.8 809.5)" fill="#fff" stroke="#111" stroke-width="1.9"/><ellipse cx="1230.1" cy="809.2" rx="11.34" ry="3.05" transform="rotate(-8 1229.8 809.5)" fill="none" stroke="#222" stroke-width="1.14"/><path d="M1221.7,808.89Q1229.8,811.63 1237.09,808.28" fill="none" stroke="#222" stroke-width="1.14"/><path d="M1339.8,829L1343.6,797.8A15.2,5.9 0 0 1 1374,797.8L1370.2,829A15.2,5.9 0 0 1 1339.8,829Z" fill="#fff" stroke="none"/><ellipse cx="1355" cy="829" rx="15.2" ry="5.9" transform="rotate(-8 1355 829)" fill="none" stroke="#111" stroke-width="1.9"/><ellipse cx="1355.3" cy="828.5" rx="11.25" ry="3.25" transform="rotate(-8 1355 829)" fill="none" stroke="#222" stroke-width="1.04"/><ellipse cx="1355.76" cy="822.76" rx="15.2" ry="5.9" transform="rotate(-8 1355.76 822.76)" fill="none" stroke="#111" stroke-width="1.9"/><ellipse cx="1356.06" cy="822.26" rx="11.25" ry="3.25" transform="rotate(-8 1355.76 822.76)" fill="none" stroke="#222" stroke-width="1.04"/><ellipse cx="1356.52" cy="816.52" rx="15.2" ry="5.9" transform="rotate(-8 1356.52 816.52)" fill="none" stroke="#111" stroke-width="1.9"/><ellipse cx="1356.82" cy="816.02" rx="11.25" ry="3.25" transform="rotate(-8 1356.52 816.52)" fill="none" stroke="#222" stroke-width="1.04"/><ellipse cx="1357.28" cy="810.28" rx="15.2" ry="5.9" transform="rotate(-8 1357.28 810.28)" fill="none" stroke="#111" stroke-width="1.9"/><ellipse cx="1357.58" cy="809.78" rx="11.25" ry="3.25" transform="rotate(-8 1357.28 810.28)" fill="none" stroke="#222" stroke-width="1.04"/><ellipse cx="1358.04" cy="804.04" rx="15.2" ry="5.9" transform="rotate(-8 1358.04 804.04)" fill="none" stroke="#111" stroke-width="1.9"/><ellipse cx="1358.34" cy="803.54" rx="11.25" ry="3.25" transform="rotate(-8 1358.04 804.04)" fill="none" stroke="#222" stroke-width="1.04"/><ellipse cx="1358.8" cy="797.8" rx="15.2" ry="5.9" transform="rotate(-8 1358.8 797.8)" fill="none" stroke="#111" stroke-width="1.9"/><ellipse cx="1359.1" cy="797.3" rx="11.25" ry="3.25" transform="rotate(-8 1358.8 797.8)" fill="none" stroke="#222" stroke-width="1.04"/><ellipse cx="1358.8" cy="797.8" rx="15.2" ry="5.9" transform="rotate(-8 1358.8 797.8)" fill="#fff" stroke="#111" stroke-width="1.9"/><ellipse cx="1359.1" cy="797.5" rx="10.64" ry="2.95" transform="rotate(-8 1358.8 797.8)" fill="none" stroke="#222" stroke-width="1.14"/><path d="M1351.2,797.21Q1358.8,799.87 1365.64,796.62" fill="none" stroke="#222" stroke-width="1.14"/><ellipse class="o" cx="1238.6" cy="863.3" rx="14.6" ry="6.4" transform="rotate(-8 1238.6 863.3)"/><ellipse class="o" cx="1238.6" cy="861" rx="14.6" ry="6.4" transform="rotate(-8 1238.6 861)"/><ellipse class="m" cx="1238.2" cy="860.5" rx="8.5" ry="3.5" transform="rotate(-8 1238.2 860.5)"/><ellipse class="m" cx="1238" cy="860.2" rx="4.5" ry="1.8" transform="rotate(-8 1238 860.2)"/><ellipse class="o" cx="1353.1" cy="848.8" rx="15" ry="5.2" transform="rotate(7 1353.1 848.8)"/><ellipse class="o" cx="1353.1" cy="846.8" rx="15" ry="5.2" transform="rotate(7 1353.1 846.8)"/><ellipse class="m" cx="1352.8" cy="846.3" rx="8.6" ry="3" transform="rotate(7 1352.8 846.3)"/><ellipse class="m" cx="1352.6" cy="846.2" rx="4.6" ry="1.6" transform="rotate(7 1352.6 846.2)"/><path class="o" d="M1235.09,881.55V887.8Q1241.6,891.3 1248.11,887.8V881.55Z"/><path class="o" d="M1233.85,879L1235.09,882.3Q1241.6,884.1 1248.11,882.3L1249.35,879Z"/><path class="o" d="M1235.71,876.8V879.3Q1241.6,880.5 1247.49,879.3V876.8Z"/><ellipse class="o" cx="1241.6" cy="876.8" rx="5.89" ry="1.8"/><line class="t" x1="1236.95" y1="877.8" x2="1246.25" y2="877.8"/><line class="t" x1="1236.95" y1="879.1" x2="1246.25" y2="879.1"/><line class="t" x1="1236.95" y1="880.4" x2="1246.25" y2="880.4"/><path class="o" d="M1344.69,863.81V869.4Q1351.2,872.9 1357.71,869.4V863.81Z"/><path class="o" d="M1343.45,861.46L1344.69,864.5Q1351.2,866.16 1357.71,864.5L1358.95,861.46Z"/><path class="o" d="M1345.31,859.6V861.74Q1351.2,862.84 1357.09,861.74V859.6Z"/><ellipse class="o" cx="1351.2" cy="859.6" rx="5.89" ry="1.8"/><line class="t" x1="1346.55" y1="860.6" x2="1355.85" y2="860.6"/><line class="t" x1="1346.55" y1="861.9" x2="1355.85" y2="861.9"/><line class="t" x1="1346.55" y1="863.2" x2="1355.85" y2="863.2"/><path class="o" d="M1239.97,897.86L1246.27,938.36Q1252.26,940.46 1257.33,936.64L1251.03,896.14Z"/><ellipse class="o" cx="1245.5" cy="897" rx="4.59" ry="2" transform="rotate(-8.84 1245.5 897)"/><line class="t" x1="1241.32" y1="899.27" x2="1250.17" y2="897.89"/><line class="t" x1="1241.57" y1="900.85" x2="1250.42" y2="899.47"/><line class="t" x1="1241.81" y1="902.43" x2="1250.66" y2="901.05"/><line class="t" x1="1245.34" y1="932.43" x2="1256.41" y2="930.71"/><path class="o" d="M1342.23,878.2L1337.63,920.9Q1342.88,924.48 1348.77,922.1L1353.37,879.4Z"/><ellipse class="o" cx="1347.8" cy="878.8" rx="4.59" ry="2" transform="rotate(6.15 1347.8 878.8)"/><line class="t" x1="1343.17" y1="879.91" x2="1352.08" y2="880.87"/><line class="t" x1="1343" y1="881.5" x2="1351.91" y2="882.46"/><line class="t" x1="1342.83" y1="883.09" x2="1351.74" y2="884.05"/><line class="t" x1="1338.27" y1="914.93" x2="1349.41" y2="916.13"/><polygon points="836.5,1016 840,1012.5 852,1010.5 866,1007 880,1001 893,993.5 900,990 908,987 918,986.5 925,989 933,993 948,997.5 965,996.5 970,999 985,1004.5 1000,1009 1012,1012 1025,1016 1040,1022 1052,1024.5 1060,1028.5 1075,1034 1088,1037 1101.6,1044 1115,1051 1126.8,1056.5 1132,1054.5 1170,1063 1175.4,1069.5 1168,1074 1150,1082 1130,1090 1116,1094 1082,1094.5 1072.8,1089.4 1044,1088 1020,1084 1000.8,1082.2 986,1077 972,1071.4 950,1063 930,1053 918,1048 905,1045 892.8,1042.6 880,1038 867.6,1035.4 852,1027 840,1021.5" fill="#fff" stroke="#111" stroke-width="1.9" stroke-linejoin="round"/><polyline class="t" points="840,1015.5 852,1013.5 893,996.5 918,989.5 948,1000.5 1000,1012 1052,1027.5 1101.6,1047 1126,1059.5 1131,1058 1168,1066 1150,1079 1116,1091 1082,1091.5 1072,1086.5 1020,1081 972,1068.4 918,1045 867.6,1032.4 843,1020"/><path class="on" d="M1133,1061 C1139.67,1060.42 1154.5,1065.08 1160,1066.5 C1165.5,1067.92 1168.5,1067.58 1166,1069.5 C1163.5,1071.42 1152.67,1075.08 1145,1078 C1137.33,1080.92 1129.17,1085.25 1120,1087 C1110.83,1088.75 1093.67,1089.67 1090,1088.5 C1086.33,1087.33 1093,1083.08 1098,1080 C1103,1076.92 1114.17,1073.17 1120,1070 C1125.83,1066.83 1126.33,1061.58 1133,1061Z"/><ellipse class="t" cx="918" cy="1019.2" rx="50.5" ry="18.4" transform="rotate(3 918 1019.2)"/><ellipse class="o" cx="918" cy="1019.2" rx="47.5" ry="16.6" transform="rotate(3 918 1019.2)"/><ellipse class="on" cx="918" cy="1019.2" rx="45.3" ry="14.6" transform="rotate(3 918 1019.2)"/><line class="m" x1="969.11" y1="1025.26" x2="968.22" y2="1026.31"/><line class="m" x1="950.06" y1="1035.61" x2="947.66" y2="1036.27"/><line class="m" x1="918.76" y1="1039.7" x2="915.76" y2="1039.71"/><line class="m" x1="887.17" y1="1035.95" x2="884.72" y2="1035.32"/><line class="m" x1="867.36" y1="1025.81" x2="866.39" y2="1024.77"/><line class="m" x1="866.89" y1="1013.14" x2="867.77" y2="1012.09"/><line class="m" x1="885.94" y1="1002.79" x2="888.34" y2="1002.13"/><line class="m" x1="917.24" y1="998.7" x2="920.24" y2="998.69"/><line class="m" x1="948.82" y1="1002.44" x2="951.28" y2="1003.08"/><line class="m" x1="968.64" y1="1012.59" x2="969.61" y2="1013.63"/><ellipse class="t" cx="985.5" cy="1041.7" rx="50.5" ry="18.4" transform="rotate(3 985.5 1041.7)"/><ellipse class="o" cx="985.5" cy="1041.7" rx="47.5" ry="16.6" transform="rotate(3 985.5 1041.7)"/><ellipse class="on" cx="985.5" cy="1041.7" rx="45.3" ry="14.6" transform="rotate(3 985.5 1041.7)"/><line class="m" x1="1036.61" y1="1047.76" x2="1035.72" y2="1048.81"/><line class="m" x1="1017.56" y1="1058.11" x2="1015.16" y2="1058.77"/><line class="m" x1="986.26" y1="1062.2" x2="983.26" y2="1062.21"/><line class="m" x1="954.67" y1="1058.45" x2="952.22" y2="1057.82"/><line class="m" x1="934.86" y1="1048.31" x2="933.89" y2="1047.27"/><line class="m" x1="934.39" y1="1035.64" x2="935.27" y2="1034.59"/><line class="m" x1="953.44" y1="1025.29" x2="955.84" y2="1024.63"/><line class="m" x1="984.74" y1="1021.2" x2="987.74" y2="1021.19"/><line class="m" x1="1016.32" y1="1024.94" x2="1018.78" y2="1025.58"/><line class="m" x1="1036.14" y1="1035.09" x2="1037.11" y2="1036.13"/><ellipse class="t" cx="1053" cy="1066" rx="50.5" ry="18.4" transform="rotate(3 1053 1066)"/><ellipse class="o" cx="1053" cy="1066" rx="47.5" ry="16.6" transform="rotate(3 1053 1066)"/><ellipse class="on" cx="1053" cy="1066" rx="45.3" ry="14.6" transform="rotate(3 1053 1066)"/><line class="m" x1="1104.11" y1="1072.06" x2="1103.22" y2="1073.11"/><line class="m" x1="1085.06" y1="1082.41" x2="1082.66" y2="1083.07"/><line class="m" x1="1053.76" y1="1086.5" x2="1050.76" y2="1086.51"/><line class="m" x1="1022.17" y1="1082.75" x2="1019.72" y2="1082.12"/><line class="m" x1="1002.36" y1="1072.61" x2="1001.39" y2="1071.57"/><line class="m" x1="1001.89" y1="1059.94" x2="1002.77" y2="1058.89"/><line class="m" x1="1020.94" y1="1049.59" x2="1023.34" y2="1048.93"/><line class="m" x1="1052.24" y1="1045.5" x2="1055.24" y2="1045.49"/><line class="m" x1="1083.82" y1="1049.24" x2="1086.28" y2="1049.88"/><line class="m" x1="1103.64" y1="1059.39" x2="1104.61" y2="1060.43"/><ellipse class="o" cx="851.4" cy="1016.7" rx="4.8" ry="2.8"/><ellipse class="t" cx="851.4" cy="1016.7" rx="2.6" ry="1.3"/><ellipse class="o" cx="916.2" cy="993.3" rx="4.8" ry="2.8"/><ellipse class="t" cx="916.2" cy="993.3" rx="2.6" ry="1.3"/><ellipse class="o" cx="982.8" cy="1017.4" rx="4.8" ry="2.8"/><ellipse class="t" cx="982.8" cy="1017.4" rx="2.6" ry="1.3"/><ellipse class="o" cx="919.8" cy="1040.8" rx="4.8" ry="2.8"/><ellipse class="t" cx="919.8" cy="1040.8" rx="2.6" ry="1.3"/><ellipse class="o" cx="1051.2" cy="1041.5" rx="4.8" ry="2.8"/><ellipse class="t" cx="1051.2" cy="1041.5" rx="2.6" ry="1.3"/><ellipse class="o" cx="986.4" cy="1066" rx="4.8" ry="2.8"/><ellipse class="t" cx="986.4" cy="1066" rx="2.6" ry="1.3"/><ellipse class="o" cx="1117.8" cy="1066" rx="4.8" ry="2.8"/><ellipse class="t" cx="1117.8" cy="1066" rx="2.6" ry="1.3"/><ellipse class="o" cx="1053" cy="1089.4" rx="4.8" ry="2.8"/><ellipse class="t" cx="1053" cy="1089.4" rx="2.6" ry="1.3"/><ellipse class="mw" cx="868" cy="1035" rx="2" ry="1.3"/><ellipse class="mw" cx="972" cy="1070" rx="2" ry="1.3"/><ellipse class="mw" cx="1003" cy="1082" rx="2" ry="1.3"/><ellipse class="mw" cx="1085" cy="1093" rx="2" ry="1.3"/><ellipse class="mw" cx="1165" cy="1075" rx="2" ry="1.3"/><ellipse class="mw" cx="1000" cy="1009" rx="2" ry="1.3"/><ellipse class="mw" cx="1060" cy="1028" rx="2" ry="1.3"/><ellipse class="mw" cx="1130" cy="1055" rx="2" ry="1.3"/><ellipse class="o" cx="1278.3" cy="1089" rx="15.2" ry="8.2" transform="rotate(-6 1278.3 1089)"/><path class="o" d="M1259.35,999.37L1273.15,1078.07Q1274.19,1083.98 1267.07,1087.29L1289.53,1085.71Q1280.69,1082.84 1279.65,1076.93L1265.85,998.23Z"/><ellipse class="t" cx="1278.3" cy="1087.5" rx="9.12" ry="4.1" transform="rotate(-6 1278.3 1087.5)"/><ellipse class="o" cx="1262.6" cy="998.8" rx="3.3" ry="1.4"/><line class="t" x1="1260.02" y1="1001.28" x2="1265.87" y2="1000.26"/><line class="t" x1="1260.23" y1="1002.46" x2="1266.08" y2="1001.44"/><line class="t" x1="1271.08" y1="1066.25" x2="1277.58" y2="1065.11"/><ellipse class="o" cx="1320" cy="1081.3" rx="18" ry="6.6" transform="rotate(10 1320 1081.3)"/><path class="o" d="M1330.53,980.55L1318.33,1069.05Q1317.51,1074.99 1306.63,1078.06L1333.37,1079.54Q1324.05,1075.89 1324.87,1069.95L1337.07,981.45Z"/><ellipse class="t" cx="1320" cy="1079.8" rx="10.8" ry="3.3" transform="rotate(10 1320 1079.8)"/><ellipse class="o" cx="1333.8" cy="981" rx="3.3" ry="1.4"/><line class="t" x1="1330.58" y1="982.58" x2="1336.47" y2="983.39"/><line class="t" x1="1330.42" y1="983.76" x2="1336.31" y2="984.58"/><line class="t" x1="1319.97" y1="1057.16" x2="1326.51" y2="1058.06"/><g style="mix-blend-mode:multiply"><g fill="#e4e4e4" stroke="none"><path d="M502,362H583Q585,362 585,364V383.6Q585,385.6 583,385.6H525.6V474.6H577Q579,474.6 579,476.6V495Q579,497 577,497H525.6V590.5H583.5Q585.5,590.5 585.5,592.5V611.5Q585.5,613.5 583.5,613.5H502Q500,613.5 500,611.5V364Q500,362 502,362Z"/><polygon points="614.6,425.7 630.5,425.7 655.2,568.4 678.6,425.7 694.3,425.7 663.7,612 646.8,612"/><path fill-rule="evenodd" d="M725,426H787Q795,426 795,434V603Q795,611 787,611H725Q717,611 717,603V434Q717,426 725,426Z M733.8,441H778.9V595.7H733.8Z"/><path d="M825.6,426H842V598.5H883.9V611H825.6Z"/><path d="M906.4,426H922.6V595.7H967.7V426H984V603Q984,611 976,611H914.4Q906.4,611 906.4,603Z"/><rect x="1032" y="426" width="16" height="185"/><rect x="1097.3" y="426" width="16" height="185"/><path fill-rule="evenodd" d="M1161.5,362H1241.4Q1255.4,362 1255.4,376V844Q1255.4,858 1241.4,858H1161.5Q1147.5,858 1147.5,844V376Q1147.5,362 1161.5,362Z M1173,385.5H1230V607H1173Z M1173,630H1230V834H1173Z"/><polygon points="1297,426 1313,426 1358.4,570 1358.4,426 1373.6,426 1373.6,611.5 1358,611.5 1313,468 1313,611.5 1297,611.5"/><rect x="1298.7" y="670.5" width="16.3" height="186.5"/><polygon points="1345.8,671.2 1361.8,671.2 1361.8,741 1402.3,671.2 1417.8,671.2 1374,747 1422,856.2 1404,856.2 1365,766 1361.8,771 1361.8,856.2 1345.8,856.2"/><path d="M1438.4,670.5H1499.4V686H1454V755H1495.4V771H1454V841.6H1500V857H1438.4Z"/></g><text x="670" y="678" font-family="Liberation Serif" font-style="italic" font-size="46" fill="#f8dede" stroke="#f8dede" stroke-width="1.2" textLength="420" lengthAdjust="spacing">ride the power</text></g><g fill="none" stroke="#2a2a2a" stroke-width="1.1" stroke-linejoin="round"><polyline points="886.4,59.2 893,59.5 927.4,51"/><polyline points="886.4,94.9 892.6,95.1 929.7,87.6"/><polyline points="1173,204.2 1221.8,204.2 1221.8,227.4 1213.4,227.4 1121.9,264.2"/><polyline points="1221.8,216 1229,216"/><polyline points="1228,295.7 1222,295.3 1155.4,281.9"/><polyline points="913,323.7 921.4,323.7 914.4,293.6"/><polyline points="921.4,323.7 960.6,312.9"/><polyline points="921.4,323.7 1026.4,334.9"/><polyline points="913.6,342.5 913.6,688.5"/><polyline points="1118.7,338.7 1380.5,338.7"/><polyline points="1396.7,338.7 1407.2,338.7"/><polyline points="1407.2,338.7 1407.2,967.5"/><polyline points="1136.6,410.1 1407.2,410.1"/><polyline points="1103.4,475.6 1143.4,437 1380.5,437"/><polyline points="1396.7,437 1407.2,437"/><polyline points="1043.2,476.4 1104,476.4 1143,437"/><polyline points="1228.7,468 1228.7,474.7"/><polyline points="1104,509.2 1136.8,474.7 1306.5,474.7 1306.5,591.6"/><polyline points="1194.4,474.7 1194.4,494"/><polyline points="1214.4,474.7 1214.4,501.2"/><polyline points="1260.4,474.7 1260.4,495.6"/><polyline points="1280.3,474.7 1280.3,502"/><polyline points="932.5,491.8 939.4,491.8 922.9,519"/><polyline points="939.4,491.8 970.3,543.5"/><polyline points="939.4,491.8 1034.2,564.8"/><polyline points="825.3,508.4 818.4,508.4 754.1,536.5"/><polyline points="1032,513.2 1072,543.6"/><polyline points="825.8,543.9 819.5,543.9 806.9,588.1"/><polyline points="707,550.8 712.8,550.8 762.7,589.8"/><polyline points="707,569.2 713.4,569.2 730.6,587"/><polyline points="1024.8,588.4 1033.6,589.2 1097.6,598"/><polyline points="1033.6,589.2 1046.4,611.6"/><polyline points="820.5,626.5 827.5,626.5 843.6,584.1"/><polyline points="821.3,649.5 827.5,649.5 842.3,663.8"/><polyline points="1407.2,627.3 1415.2,627.3"/><polyline points="1186.4,642 1179.2,642 1171.4,680"/><polyline points="1124.7,669.8 1116.2,669.8 1114.1,652.8"/><polyline points="1116.2,669.8 1069.3,661.3"/><polyline points="1174,728 1228,666.5 1407.2,666.5"/><polyline points="1229.8,701.6 1222,701.6 1211.8,726.8"/><polyline points="1222,701.6 1218.4,724.4"/><polyline points="1289.4,704.6 1289.4,711.8 1229.8,742.4"/><polyline points="1289.4,711.8 1358.8,730.4"/><polyline points="1347.4,695 1354.6,695 1368.4,716"/><polyline points="1354.6,695 1372,714.2"/><polyline points="1319.8,745.4 1328.8,745.4 1355.2,760.4"/><polyline points="1269.4,754.4 1264,754.4 1232.8,771.2"/><polyline points="1269.4,793.4 1262.8,793.4 1244.8,809.6"/><polyline points="1322.2,782.6 1328.8,782.6 1345.6,795.8"/><polyline points="682.7,763 682.7,757.2 665.6,671.6"/><polyline points="710.7,763 710.7,699.6"/><polyline points="743.4,763 743.4,757.2 752.8,716.8"/><polyline points="771.4,763 771.4,754 790.1,737"/><polyline points="1283,841.8 1270.5,841.8 1251.5,854.3"/><polyline points="1308.5,862.1 1321.6,862.1 1340,850.3"/><polyline points="1291.5,900.2 1291.5,893.6 1248.9,886.4"/><polyline points="1291.5,893.6 1344.6,869.3"/><polyline points="1355.7,885.7 1407.2,885.7"/><polyline points="1258,931.6 1407.2,931.6"/><polyline points="1396.4,947.4 1407.2,947.4"/><polyline points="987.2,884.8 1048,947.4 1382,947.4"/><polyline points="1396,967.5 1407.2,967.5"/><polyline points="963.2,871.2 992,860"/><polyline points="952,881.6 1024,967.5 1380,967.5"/><polyline points="1120.5,804 1138.6,808.4 1138.6,870.2 1168.8,880.8"/><polyline points="1124,899.2 1135.2,899.2 1150.4,888.8"/><polyline points="1124,926.4 1135.2,926.4 1201.6,908"/><polyline points="778.4,883.7 786.1,883.7 818,857.1"/><polyline points="779.4,1036.4 786.1,1035.9 836.8,1020.6"/><polyline points="1222.7,1043.2 1229.6,1043.2 1264,1034"/><polyline points="1372.5,1039.2 1365.6,1039.2 1331.2,1031.7"/></g><g font-family="Liberation Sans" font-weight="bold" font-size="16.8" fill="#111"><text x="865" y="66">24</text><text x="864.7" y="100.6">25</text><text x="1229.6" y="222.1">22</text><text x="1230.1" y="301.6">23</text><text x="900.2" y="330.1">9</text><text x="1383.4" y="346.1">6</text><text x="1383.4" y="443.9">5</text><text x="1219.5" y="466">33</text><text x="920.2" y="497.8">8</text><text x="826.1" y="514.1">34</text><text x="1010.9" y="512.4">31</text><text x="827.2" y="549.7">35</text><text x="687.2" y="558.1">36</text><text x="687.2" y="576.1">37</text><text x="1005.5" y="593.8">21</text><text x="800.9" y="631.7">18</text><text x="1420.5" y="634">1</text><text x="1187.1" y="647.4">30</text><text x="800.9" y="655.1">19</text><text x="1127" y="675.8">20</text><text x="1232.5" y="706.4">16</text><text x="1279.3" y="702.2">14</text><text x="1327.3" y="700.4">16</text><text x="1297.3" y="752.6">40</text><text x="1271.5" y="759.8">15</text><text x="1302.7" y="788.6">12</text><text x="1272.1" y="798.8">13</text><text x="672.5" y="778.1">29</text><text x="702.1" y="778.1">27</text><text x="736.3" y="778.1">26</text><text x="764.3" y="778.1">28</text><text x="1287.3" y="848.3">3</text><text x="1294.5" y="868">3</text><text x="756.6" y="890.2">32</text><text x="1101.5" y="903.8">39</text><text x="1287.3" y="914.5">7</text><text x="1101.5" y="931.8">38</text><text x="1383.9" y="954">2</text><text x="1383.1" y="972.6">4</text><text x="758.2" y="1042.6">17</text><text x="1204" y="1049">11</text><text x="1374.4" y="1044.9">10</text></g><path d="M558.2,1084.3H627.3A30.3,34 0 0 1 627.3,1152.3H558.2Z" fill="#5b6a6e"/><text x="589.8" y="1120.8" font-family="Liberation Sans" font-weight="bold" font-size="25" fill="#fff">G03</text><rect x="591.5" y="1128.9" width="12.5" height="13.2" rx="3" fill="#fff"/><path d="M596.3,1133.3L598.9,1131.6V1139.2" fill="none" stroke="#333" stroke-width="1.15"/></svg></body></html>
